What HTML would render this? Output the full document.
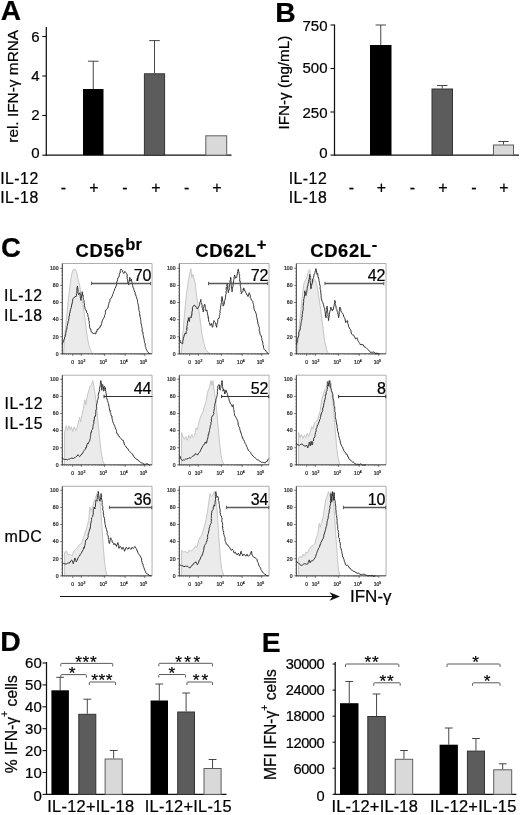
<!DOCTYPE html>
<html lang="en">
<head>
<meta charset="utf-8">
<title>Figure: IFN-γ production by NK cell subsets</title>
<style>
html,body{margin:0;padding:0;background:#fff;}
body{width:520px;height:815px;overflow:hidden;}
svg{display:block;font-family:"Liberation Sans", Arial, sans-serif;filter:grayscale(1);}
text{stroke:#000;stroke-width:0.22px;paint-order:stroke fill;}
</style>
</head>
<body>
<svg width="520" height="815" viewBox="0 0 520 815">
<rect width="520" height="815" fill="#fff"/>
<text x="0.80" y="20.30" font-size="28" text-anchor="start" font-weight="bold" fill="#000" >A</text>
<line x1="46.30" y1="27.00" x2="46.30" y2="155.80" stroke="#111" stroke-width="1.25" />
<line x1="45.70" y1="155.20" x2="231.50" y2="155.20" stroke="#111" stroke-width="1.25" />
<line x1="42.30" y1="36.50" x2="46.30" y2="36.50" stroke="#111" stroke-width="1.1" />
<text x="39.50" y="41.80" font-size="15" text-anchor="end" font-weight="normal" fill="#000" >6</text>
<line x1="42.30" y1="76.00" x2="46.30" y2="76.00" stroke="#111" stroke-width="1.1" />
<text x="39.50" y="80.90" font-size="15" text-anchor="end" font-weight="normal" fill="#000" >4</text>
<line x1="42.30" y1="115.50" x2="46.30" y2="115.50" stroke="#111" stroke-width="1.1" />
<text x="39.50" y="120.40" font-size="15" text-anchor="end" font-weight="normal" fill="#000" >2</text>
<line x1="42.30" y1="155.20" x2="46.30" y2="155.20" stroke="#111" stroke-width="1.1" />
<text x="39.50" y="158.40" font-size="15" text-anchor="end" font-weight="normal" fill="#000" >0</text>
<line x1="93.25" y1="61.20" x2="93.25" y2="89.00" stroke="#333" stroke-width="0.9" />
<line x1="87.95" y1="61.20" x2="98.55" y2="61.20" stroke="#333" stroke-width="0.9" />
<rect x="83.00" y="89.00" width="20.50" height="66.20" fill="#000"/>
<line x1="154.50" y1="40.60" x2="154.50" y2="73.30" stroke="#333" stroke-width="0.9" />
<line x1="149.20" y1="40.60" x2="159.80" y2="40.60" stroke="#333" stroke-width="0.9" />
<rect x="144.40" y="73.80" width="20.20" height="81.40" fill="#5c5c5c" stroke="#333" stroke-width="1"/>
<line x1="216.25" y1="135.30" x2="216.25" y2="135.30" stroke="#333" stroke-width="0.9" />
<line x1="216.25" y1="135.30" x2="216.25" y2="135.30" stroke="#333" stroke-width="0.9" />
<rect x="205.80" y="135.80" width="20.90" height="19.40" fill="#d9d9d9" stroke="#5e5e5e" stroke-width="1"/>
<text transform="translate(18.4,86.3) rotate(-90)" font-size="15.4" text-anchor="middle">rel. IFN-γ mRNA</text>
<text x="0.20" y="183.50" font-size="15.8" text-anchor="start" font-weight="normal" fill="#000" letter-spacing="0.5">IL-12</text>
<text x="0.20" y="203.20" font-size="15.8" text-anchor="start" font-weight="normal" fill="#000" letter-spacing="0.5">IL-18</text>
<text x="63.50" y="192.80" font-size="16" text-anchor="middle" font-weight="normal" fill="#000" stroke-width="0.55">-</text>
<text x="94.00" y="192.80" font-size="16" text-anchor="middle" font-weight="normal" fill="#000" stroke-width="0.55">+</text>
<text x="125.00" y="192.80" font-size="16" text-anchor="middle" font-weight="normal" fill="#000" stroke-width="0.55">-</text>
<text x="156.00" y="192.80" font-size="16" text-anchor="middle" font-weight="normal" fill="#000" stroke-width="0.55">+</text>
<text x="186.70" y="192.80" font-size="16" text-anchor="middle" font-weight="normal" fill="#000" stroke-width="0.55">-</text>
<text x="216.80" y="192.80" font-size="16" text-anchor="middle" font-weight="normal" fill="#000" stroke-width="0.55">+</text>
<text x="275.30" y="21.50" font-size="28.3" text-anchor="start" font-weight="bold" fill="#000" >B</text>
<line x1="334.50" y1="24.50" x2="334.50" y2="155.70" stroke="#111" stroke-width="1.25" />
<line x1="333.90" y1="155.10" x2="519.00" y2="155.10" stroke="#111" stroke-width="1.25" />
<line x1="330.50" y1="25.00" x2="334.50" y2="25.00" stroke="#111" stroke-width="1.1" />
<text x="327.50" y="31.30" font-size="15" text-anchor="end" font-weight="normal" fill="#000" >750</text>
<line x1="330.50" y1="68.50" x2="334.50" y2="68.50" stroke="#111" stroke-width="1.1" />
<text x="327.50" y="73.40" font-size="15" text-anchor="end" font-weight="normal" fill="#000" >500</text>
<line x1="330.50" y1="112.00" x2="334.50" y2="112.00" stroke="#111" stroke-width="1.1" />
<text x="327.50" y="117.70" font-size="15" text-anchor="end" font-weight="normal" fill="#000" >250</text>
<line x1="330.50" y1="155.10" x2="334.50" y2="155.10" stroke="#111" stroke-width="1.1" />
<text x="327.50" y="158.40" font-size="15" text-anchor="end" font-weight="normal" fill="#000" >0</text>
<line x1="380.75" y1="25.00" x2="380.75" y2="45.00" stroke="#333" stroke-width="0.9" />
<line x1="375.55" y1="25.00" x2="385.95" y2="25.00" stroke="#333" stroke-width="0.9" />
<rect x="370.00" y="45.00" width="21.50" height="110.10" fill="#000"/>
<line x1="442.25" y1="85.50" x2="442.25" y2="88.50" stroke="#333" stroke-width="0.9" />
<line x1="437.05" y1="85.50" x2="447.45" y2="85.50" stroke="#333" stroke-width="0.9" />
<rect x="432.00" y="89.00" width="20.50" height="66.10" fill="#5c5c5c" stroke="#333" stroke-width="1"/>
<line x1="503.50" y1="141.50" x2="503.50" y2="144.50" stroke="#333" stroke-width="0.9" />
<line x1="498.30" y1="141.50" x2="508.70" y2="141.50" stroke="#333" stroke-width="0.9" />
<rect x="493.50" y="145.00" width="20.00" height="10.10" fill="#d9d9d9" stroke="#5e5e5e" stroke-width="1"/>
<text transform="translate(288.8,82.6) rotate(-90)" font-size="15.2" text-anchor="middle">IFN-γ (ng/mL)</text>
<text x="288.70" y="183.50" font-size="15.8" text-anchor="start" font-weight="normal" fill="#000" letter-spacing="0.5">IL-12</text>
<text x="288.70" y="203.20" font-size="15.8" text-anchor="start" font-weight="normal" fill="#000" letter-spacing="0.5">IL-18</text>
<text x="351.50" y="192.80" font-size="16" text-anchor="middle" font-weight="normal" fill="#000" stroke-width="0.55">-</text>
<text x="381.50" y="192.80" font-size="16" text-anchor="middle" font-weight="normal" fill="#000" stroke-width="0.55">+</text>
<text x="412.50" y="192.80" font-size="16" text-anchor="middle" font-weight="normal" fill="#000" stroke-width="0.55">-</text>
<text x="443.00" y="192.80" font-size="16" text-anchor="middle" font-weight="normal" fill="#000" stroke-width="0.55">+</text>
<text x="474.00" y="192.80" font-size="16" text-anchor="middle" font-weight="normal" fill="#000" stroke-width="0.55">-</text>
<text x="504.00" y="192.80" font-size="16" text-anchor="middle" font-weight="normal" fill="#000" stroke-width="0.55">+</text>
<text x="1.00" y="256.70" font-size="27.5" text-anchor="start" font-weight="bold" fill="#000" >C</text>
<text x="75.6" y="256.7" font-size="18.3" font-weight="bold" letter-spacing="0.7">CD56<tspan font-size="16.5" dy="-6.5" letter-spacing="0.3">br</tspan></text>
<text x="195.3" y="256.7" font-size="18.3" font-weight="bold" letter-spacing="0.7">CD62L<tspan font-size="16.5" dy="-6.5" letter-spacing="0.3">+</tspan></text>
<text x="310.3" y="256.7" font-size="18.3" font-weight="bold" letter-spacing="0.7">CD62L<tspan font-size="16.5" dy="-6.5" letter-spacing="0.3">-</tspan></text>
<text x="4.00" y="300.80" font-size="15.8" text-anchor="start" font-weight="normal" fill="#000" letter-spacing="0.5">IL-12</text>
<text x="4.00" y="321.00" font-size="15.8" text-anchor="start" font-weight="normal" fill="#000" letter-spacing="0.5">IL-18</text>
<text x="4.60" y="409.20" font-size="15.8" text-anchor="start" font-weight="normal" fill="#000" letter-spacing="0.5">IL-12</text>
<text x="4.60" y="428.80" font-size="15.8" text-anchor="start" font-weight="normal" fill="#000" letter-spacing="0.5">IL-15</text>
<text x="4.40" y="541.50" font-size="16" text-anchor="start" font-weight="normal" fill="#000" letter-spacing="0.5">mDC</text>
<path d="M63.65,353.85 L64.62,336.92 L66.54,317.69 L68.46,298.46 L70.38,283.08 L71.92,273.46 L73.27,269.62 L75.19,269.23 L76.54,271.54 L78.08,279.23 L79.62,285.00 L80.96,294.62 L82.88,304.23 L84.81,317.69 L86.73,333.08 L88.65,344.62 L90.58,350.38 L92.50,353.85Z" fill="#ebebeb" stroke="none"/>
<path d="M63.65,353.85 L64.62,336.92 L66.54,317.69 L68.46,298.46 L70.38,283.08 L71.92,273.46 L73.27,269.62 L75.19,269.23 L76.54,271.54 L78.08,279.23 L79.62,285.00 L80.96,294.62 L82.88,304.23 L84.81,317.69 L86.73,333.08 L88.65,344.62 L90.58,350.38 L92.50,353.85" fill="none" stroke="#c6c6c6" stroke-width="1" stroke-linejoin="round"/>
<path d="M62.31,263.50 H152.05 V353.85" fill="none" stroke="#9a9a9a" stroke-width="0.8"/>
<line x1="62.31" y1="263.50" x2="62.31" y2="354.35" stroke="#333" stroke-width="1" />
<line x1="61.81" y1="353.85" x2="152.05" y2="353.85" stroke="#333" stroke-width="1" />
<line x1="60.31" y1="353.85" x2="62.31" y2="353.85" stroke="#333" stroke-width="0.7" />
<text x="58.51" y="355.65" font-size="5.1" text-anchor="end" font-weight="normal" fill="#3a3a3a" stroke="none">0</text>
<line x1="60.31" y1="336.73" x2="62.31" y2="336.73" stroke="#333" stroke-width="0.7" />
<text x="58.51" y="338.53" font-size="5.1" text-anchor="end" font-weight="normal" fill="#3a3a3a" stroke="none">20</text>
<line x1="60.31" y1="319.62" x2="62.31" y2="319.62" stroke="#333" stroke-width="0.7" />
<text x="58.51" y="321.42" font-size="5.1" text-anchor="end" font-weight="normal" fill="#3a3a3a" stroke="none">40</text>
<line x1="60.31" y1="302.50" x2="62.31" y2="302.50" stroke="#333" stroke-width="0.7" />
<text x="58.51" y="304.30" font-size="5.1" text-anchor="end" font-weight="normal" fill="#3a3a3a" stroke="none">60</text>
<line x1="60.31" y1="285.38" x2="62.31" y2="285.38" stroke="#333" stroke-width="0.7" />
<text x="58.51" y="287.18" font-size="5.1" text-anchor="end" font-weight="normal" fill="#3a3a3a" stroke="none">80</text>
<line x1="60.31" y1="268.27" x2="62.31" y2="268.27" stroke="#333" stroke-width="0.7" />
<text x="58.51" y="270.07" font-size="5.1" text-anchor="end" font-weight="normal" fill="#3a3a3a" stroke="none">100</text>
<line x1="61.31" y1="350.42" x2="62.31" y2="350.42" stroke="#555" stroke-width="0.5" />
<line x1="61.31" y1="347.00" x2="62.31" y2="347.00" stroke="#555" stroke-width="0.5" />
<line x1="61.31" y1="343.58" x2="62.31" y2="343.58" stroke="#555" stroke-width="0.5" />
<line x1="61.31" y1="340.15" x2="62.31" y2="340.15" stroke="#555" stroke-width="0.5" />
<line x1="61.31" y1="333.31" x2="62.31" y2="333.31" stroke="#555" stroke-width="0.5" />
<line x1="61.31" y1="329.88" x2="62.31" y2="329.88" stroke="#555" stroke-width="0.5" />
<line x1="61.31" y1="326.46" x2="62.31" y2="326.46" stroke="#555" stroke-width="0.5" />
<line x1="61.31" y1="323.04" x2="62.31" y2="323.04" stroke="#555" stroke-width="0.5" />
<line x1="61.31" y1="316.19" x2="62.31" y2="316.19" stroke="#555" stroke-width="0.5" />
<line x1="61.31" y1="312.77" x2="62.31" y2="312.77" stroke="#555" stroke-width="0.5" />
<line x1="61.31" y1="309.35" x2="62.31" y2="309.35" stroke="#555" stroke-width="0.5" />
<line x1="61.31" y1="305.92" x2="62.31" y2="305.92" stroke="#555" stroke-width="0.5" />
<line x1="61.31" y1="299.08" x2="62.31" y2="299.08" stroke="#555" stroke-width="0.5" />
<line x1="61.31" y1="295.65" x2="62.31" y2="295.65" stroke="#555" stroke-width="0.5" />
<line x1="61.31" y1="292.23" x2="62.31" y2="292.23" stroke="#555" stroke-width="0.5" />
<line x1="61.31" y1="288.81" x2="62.31" y2="288.81" stroke="#555" stroke-width="0.5" />
<line x1="61.31" y1="281.96" x2="62.31" y2="281.96" stroke="#555" stroke-width="0.5" />
<line x1="61.31" y1="278.54" x2="62.31" y2="278.54" stroke="#555" stroke-width="0.5" />
<line x1="61.31" y1="275.12" x2="62.31" y2="275.12" stroke="#555" stroke-width="0.5" />
<line x1="61.31" y1="271.69" x2="62.31" y2="271.69" stroke="#555" stroke-width="0.5" />
<text x="72.69" y="364.45" font-size="5" text-anchor="middle" font-weight="normal" fill="#3a3a3a" stroke="none">0</text>
<text x="81.54" y="364.45" font-size="5" text-anchor="middle" fill="#3a3a3a" stroke="none">10<tspan font-size="3.4" dy="-2">2</tspan></text>
<text x="103.27" y="364.45" font-size="5" text-anchor="middle" fill="#3a3a3a" stroke="none">10<tspan font-size="3.4" dy="-2">3</tspan></text>
<text x="123.85" y="364.45" font-size="5" text-anchor="middle" fill="#3a3a3a" stroke="none">10<tspan font-size="3.4" dy="-2">4</tspan></text>
<text x="143.46" y="364.45" font-size="5" text-anchor="middle" fill="#3a3a3a" stroke="none">10<tspan font-size="3.4" dy="-2">5</tspan></text>
<line x1="72.69" y1="353.85" x2="72.69" y2="355.85" stroke="#333" stroke-width="0.7" />
<line x1="81.35" y1="353.85" x2="81.35" y2="355.85" stroke="#333" stroke-width="0.7" />
<line x1="104.62" y1="353.85" x2="104.62" y2="355.85" stroke="#333" stroke-width="0.7" />
<line x1="125.19" y1="353.85" x2="125.19" y2="355.85" stroke="#333" stroke-width="0.7" />
<line x1="144.81" y1="353.85" x2="144.81" y2="355.85" stroke="#333" stroke-width="0.7" />
<line x1="88.35" y1="353.85" x2="88.35" y2="354.95" stroke="#555" stroke-width="0.45" />
<line x1="92.45" y1="353.85" x2="92.45" y2="354.95" stroke="#555" stroke-width="0.45" />
<line x1="95.36" y1="353.85" x2="95.36" y2="354.95" stroke="#555" stroke-width="0.45" />
<line x1="97.61" y1="353.85" x2="97.61" y2="354.95" stroke="#555" stroke-width="0.45" />
<line x1="99.45" y1="353.85" x2="99.45" y2="354.95" stroke="#555" stroke-width="0.45" />
<line x1="101.01" y1="353.85" x2="101.01" y2="354.95" stroke="#555" stroke-width="0.45" />
<line x1="102.36" y1="353.85" x2="102.36" y2="354.95" stroke="#555" stroke-width="0.45" />
<line x1="103.55" y1="353.85" x2="103.55" y2="354.95" stroke="#555" stroke-width="0.45" />
<line x1="110.81" y1="353.85" x2="110.81" y2="354.95" stroke="#555" stroke-width="0.45" />
<line x1="114.43" y1="353.85" x2="114.43" y2="354.95" stroke="#555" stroke-width="0.45" />
<line x1="117.00" y1="353.85" x2="117.00" y2="354.95" stroke="#555" stroke-width="0.45" />
<line x1="119.00" y1="353.85" x2="119.00" y2="354.95" stroke="#555" stroke-width="0.45" />
<line x1="120.63" y1="353.85" x2="120.63" y2="354.95" stroke="#555" stroke-width="0.45" />
<line x1="122.00" y1="353.85" x2="122.00" y2="354.95" stroke="#555" stroke-width="0.45" />
<line x1="123.20" y1="353.85" x2="123.20" y2="354.95" stroke="#555" stroke-width="0.45" />
<line x1="124.25" y1="353.85" x2="124.25" y2="354.95" stroke="#555" stroke-width="0.45" />
<line x1="131.10" y1="353.85" x2="131.10" y2="354.95" stroke="#555" stroke-width="0.45" />
<line x1="134.55" y1="353.85" x2="134.55" y2="354.95" stroke="#555" stroke-width="0.45" />
<line x1="137.00" y1="353.85" x2="137.00" y2="354.95" stroke="#555" stroke-width="0.45" />
<line x1="138.90" y1="353.85" x2="138.90" y2="354.95" stroke="#555" stroke-width="0.45" />
<line x1="140.46" y1="353.85" x2="140.46" y2="354.95" stroke="#555" stroke-width="0.45" />
<line x1="141.77" y1="353.85" x2="141.77" y2="354.95" stroke="#555" stroke-width="0.45" />
<line x1="142.91" y1="353.85" x2="142.91" y2="354.95" stroke="#555" stroke-width="0.45" />
<line x1="143.91" y1="353.85" x2="143.91" y2="354.95" stroke="#555" stroke-width="0.45" />
<line x1="64.23" y1="353.85" x2="64.23" y2="354.95" stroke="#555" stroke-width="0.45" />
<line x1="66.54" y1="353.85" x2="66.54" y2="354.95" stroke="#555" stroke-width="0.45" />
<line x1="68.46" y1="353.85" x2="68.46" y2="354.95" stroke="#555" stroke-width="0.45" />
<line x1="70.38" y1="353.85" x2="70.38" y2="354.95" stroke="#555" stroke-width="0.45" />
<line x1="74.81" y1="353.85" x2="74.81" y2="354.95" stroke="#555" stroke-width="0.45" />
<line x1="76.73" y1="353.85" x2="76.73" y2="354.95" stroke="#555" stroke-width="0.45" />
<line x1="78.46" y1="353.85" x2="78.46" y2="354.95" stroke="#555" stroke-width="0.45" />
<line x1="80.00" y1="353.85" x2="80.00" y2="354.95" stroke="#555" stroke-width="0.45" />
<path d="M62.31,344.62 L62.47,343.37 L62.80,342.93 L63.38,341.79 L63.85,340.06 L64.19,339.07 L64.62,338.85 L64.58,337.12 L65.27,336.65 L65.10,335.14 L65.79,334.91 L65.66,333.79 L65.66,333.40 L66.03,332.17 L66.15,329.99 L66.81,329.22 L66.89,327.98 L66.97,327.68 L67.00,326.50 L67.50,325.38 L67.50,323.65 L67.84,323.62 L68.13,322.01 L68.14,321.21 L68.59,320.73 L68.70,318.82 L69.09,318.25 L68.90,317.55 L68.99,316.92 L69.59,315.00 L69.61,313.55 L69.92,312.34 L70.05,312.47 L70.07,311.63 L70.38,310.00 L70.71,309.26 L70.88,308.03 L71.46,307.40 L71.54,305.76 L71.82,304.05 L72.27,303.94 L72.08,303.17 L72.59,301.43 L72.72,299.80 L72.76,298.98 L73.27,298.46 L74.40,297.11 L75.03,296.59 L76.15,296.54 L76.53,295.31 L76.39,293.75 L76.80,293.44 L76.93,292.82 L76.77,290.90 L77.21,289.97 L76.87,289.87 L77.06,287.56 L77.36,286.59 L77.50,285.96 L77.47,287.19 L77.69,287.33 L77.90,289.00 L78.10,291.01 L78.18,291.39 L77.94,292.73 L78.52,294.17 L78.46,294.62 L79.42,294.25 L80.00,292.69 L80.07,293.62 L80.36,294.26 L80.14,295.29 L80.33,296.62 L80.40,297.93 L80.60,298.49 L80.96,300.38 L81.04,298.67 L81.54,297.46 L81.24,297.32 L81.54,295.66 L81.56,294.76 L82.29,294.45 L82.13,292.76 L82.31,291.73 L82.25,292.19 L82.54,293.72 L82.67,295.62 L83.37,295.45 L83.04,297.38 L83.46,298.46 L83.31,299.60 L84.07,300.64 L84.04,302.25 L83.97,302.35 L84.38,303.27 L84.54,304.92 L84.33,305.67 L84.97,307.51 L84.81,308.08 L85.48,309.60 L85.92,310.51 L86.26,310.52 L86.73,311.92 L86.75,312.65 L87.23,313.09 L87.82,314.42 L87.98,316.50 L88.65,317.43 L88.65,317.69 L88.67,319.49 L88.69,319.38 L88.79,320.41 L89.34,322.16 L89.17,323.58 L89.49,324.35 L89.50,324.51 L89.69,326.89 L89.62,327.31 L89.99,328.67 L90.57,328.72 L90.96,329.92 L91.09,331.91 L91.54,332.12 L92.79,332.92 L93.46,334.04 L94.42,333.08 L95.77,334.04 L95.87,333.44 L96.16,331.52 L96.89,331.80 L97.21,329.63 L97.31,329.23 L98.37,329.36 L99.26,327.71 L100.19,327.31 L100.20,325.76 L100.93,326.14 L101.43,324.47 L101.71,323.36 L101.61,323.02 L102.12,321.54 L102.46,320.18 L103.13,319.20 L103.51,318.27 L104.04,317.69 L104.58,316.00 L104.56,315.26 L105.12,314.53 L105.40,313.17 L105.43,312.20 L105.38,311.14 L105.96,310.00 L106.72,308.94 L107.88,308.08 L108.32,306.08 L108.35,305.15 L108.64,304.83 L108.85,303.27 L109.24,302.03 L109.80,301.43 L110.04,299.75 L110.24,299.02 L110.77,298.46 L111.25,297.94 L111.90,296.64 L112.18,296.24 L112.69,294.62 L113.02,293.83 L113.46,292.71 L113.68,291.65 L114.26,290.73 L114.54,290.13 L114.62,288.85 L114.94,288.59 L115.86,287.02 L115.83,286.51 L116.54,285.00 L116.69,283.24 L116.76,282.01 L117.22,280.86 L117.56,280.84 L117.50,279.23 L118.02,277.72 L118.04,277.56 L118.95,276.96 L119.33,274.94 L119.42,274.42 L119.68,273.22 L120.17,273.13 L120.19,270.77 L120.40,270.29 L120.77,269.23 L121.42,269.42 L122.31,270.58 L122.51,271.89 L123.30,272.59 L123.85,273.46 L124.41,271.73 L125.19,271.54 L125.87,272.70 L126.54,273.46 L127.01,273.86 L127.17,276.12 L126.88,276.13 L127.38,277.12 L127.13,278.59 L127.79,279.93 L127.69,281.15 L127.86,282.95 L128.60,283.16 L128.65,285.00 L128.92,284.01 L128.65,282.15 L129.02,282.00 L129.48,279.92 L129.53,279.72 L129.71,277.74 L129.62,277.31 L130.17,277.90 L130.15,279.80 L130.58,281.15 L131.33,280.28 L131.54,279.23 L131.49,280.01 L131.76,281.58 L131.90,282.07 L132.12,283.13 L132.50,285.00 L132.71,285.66 L133.04,287.34 L133.30,287.88 L133.85,288.85 L133.86,289.56 L134.18,290.37 L134.84,292.10 L135.11,292.20 L135.20,294.35 L135.77,294.62 L136.00,296.22 L136.53,296.81 L136.60,297.74 L137.18,299.31 L137.36,299.86 L137.50,301.54 L137.69,302.31 L137.77,303.20 L137.81,303.69 L138.37,304.77 L138.18,306.11 L138.78,306.89 L138.85,309.19 L138.75,309.30 L139.06,310.37 L139.23,311.20 L139.74,312.42 L139.62,313.85 L139.82,315.65 L140.26,315.54 L140.05,316.69 L140.24,317.24 L140.49,319.05 L140.67,319.66 L140.69,320.40 L140.95,321.58 L140.88,322.55 L141.19,324.02 L141.54,325.38 L141.73,326.57 L141.99,327.88 L142.31,328.88 L142.13,329.40 L142.19,331.40 L142.68,332.04 L142.98,332.00 L143.02,334.40 L143.31,335.20 L143.30,335.30 L143.46,336.92 L143.89,338.00 L144.10,339.55 L144.35,340.26 L144.44,341.49 L144.23,341.83 L144.65,342.75 L145.17,343.77 L145.25,345.56 L145.38,346.54 L145.88,347.70 L145.84,348.44 L146.70,349.90 L146.95,350.39 L147.31,351.35 L147.99,352.37 L149.07,353.26 L150.19,353.65" fill="none" stroke="#262626" stroke-width="0.95" stroke-linejoin="round"/>
<line x1="91.54" y1="283.50" x2="150.58" y2="283.50" stroke="#585858" stroke-width="1.3" />
<line x1="91.54" y1="281.80" x2="91.54" y2="285.20" stroke="#585858" stroke-width="1.0" />
<line x1="150.58" y1="281.80" x2="150.58" y2="285.20" stroke="#585858" stroke-width="1.0" />
<text x="151.49" y="280.97" font-size="16" text-anchor="end" font-weight="normal" fill="#000" >70</text>
<path d="M181.23,353.85 L182.58,336.92 L184.50,313.85 L186.42,294.62 L188.35,281.15 L189.69,273.46 L190.85,268.65 L191.81,277.31 L192.77,274.42 L194.12,279.23 L195.46,285.00 L196.62,296.54 L197.96,304.23 L199.88,317.69 L201.81,333.08 L203.73,342.69 L205.65,349.42 L208.54,352.88 L210.46,353.85Z" fill="#ebebeb" stroke="none"/>
<path d="M181.23,353.85 L182.58,336.92 L184.50,313.85 L186.42,294.62 L188.35,281.15 L189.69,273.46 L190.85,268.65 L191.81,277.31 L192.77,274.42 L194.12,279.23 L195.46,285.00 L196.62,296.54 L197.96,304.23 L199.88,317.69 L201.81,333.08 L203.73,342.69 L205.65,349.42 L208.54,352.88 L210.46,353.85" fill="none" stroke="#c6c6c6" stroke-width="1" stroke-linejoin="round"/>
<path d="M179.31,263.50 H269.05 V353.85" fill="none" stroke="#9a9a9a" stroke-width="0.8"/>
<line x1="179.31" y1="263.50" x2="179.31" y2="354.35" stroke="#333" stroke-width="1" />
<line x1="178.81" y1="353.85" x2="269.05" y2="353.85" stroke="#333" stroke-width="1" />
<line x1="177.31" y1="353.85" x2="179.31" y2="353.85" stroke="#333" stroke-width="0.7" />
<text x="175.51" y="355.65" font-size="5.1" text-anchor="end" font-weight="normal" fill="#3a3a3a" stroke="none">0</text>
<line x1="177.31" y1="336.73" x2="179.31" y2="336.73" stroke="#333" stroke-width="0.7" />
<text x="175.51" y="338.53" font-size="5.1" text-anchor="end" font-weight="normal" fill="#3a3a3a" stroke="none">20</text>
<line x1="177.31" y1="319.62" x2="179.31" y2="319.62" stroke="#333" stroke-width="0.7" />
<text x="175.51" y="321.42" font-size="5.1" text-anchor="end" font-weight="normal" fill="#3a3a3a" stroke="none">40</text>
<line x1="177.31" y1="302.50" x2="179.31" y2="302.50" stroke="#333" stroke-width="0.7" />
<text x="175.51" y="304.30" font-size="5.1" text-anchor="end" font-weight="normal" fill="#3a3a3a" stroke="none">60</text>
<line x1="177.31" y1="285.38" x2="179.31" y2="285.38" stroke="#333" stroke-width="0.7" />
<text x="175.51" y="287.18" font-size="5.1" text-anchor="end" font-weight="normal" fill="#3a3a3a" stroke="none">80</text>
<line x1="177.31" y1="268.27" x2="179.31" y2="268.27" stroke="#333" stroke-width="0.7" />
<text x="175.51" y="270.07" font-size="5.1" text-anchor="end" font-weight="normal" fill="#3a3a3a" stroke="none">100</text>
<line x1="178.31" y1="350.42" x2="179.31" y2="350.42" stroke="#555" stroke-width="0.5" />
<line x1="178.31" y1="347.00" x2="179.31" y2="347.00" stroke="#555" stroke-width="0.5" />
<line x1="178.31" y1="343.58" x2="179.31" y2="343.58" stroke="#555" stroke-width="0.5" />
<line x1="178.31" y1="340.15" x2="179.31" y2="340.15" stroke="#555" stroke-width="0.5" />
<line x1="178.31" y1="333.31" x2="179.31" y2="333.31" stroke="#555" stroke-width="0.5" />
<line x1="178.31" y1="329.88" x2="179.31" y2="329.88" stroke="#555" stroke-width="0.5" />
<line x1="178.31" y1="326.46" x2="179.31" y2="326.46" stroke="#555" stroke-width="0.5" />
<line x1="178.31" y1="323.04" x2="179.31" y2="323.04" stroke="#555" stroke-width="0.5" />
<line x1="178.31" y1="316.19" x2="179.31" y2="316.19" stroke="#555" stroke-width="0.5" />
<line x1="178.31" y1="312.77" x2="179.31" y2="312.77" stroke="#555" stroke-width="0.5" />
<line x1="178.31" y1="309.35" x2="179.31" y2="309.35" stroke="#555" stroke-width="0.5" />
<line x1="178.31" y1="305.92" x2="179.31" y2="305.92" stroke="#555" stroke-width="0.5" />
<line x1="178.31" y1="299.08" x2="179.31" y2="299.08" stroke="#555" stroke-width="0.5" />
<line x1="178.31" y1="295.65" x2="179.31" y2="295.65" stroke="#555" stroke-width="0.5" />
<line x1="178.31" y1="292.23" x2="179.31" y2="292.23" stroke="#555" stroke-width="0.5" />
<line x1="178.31" y1="288.81" x2="179.31" y2="288.81" stroke="#555" stroke-width="0.5" />
<line x1="178.31" y1="281.96" x2="179.31" y2="281.96" stroke="#555" stroke-width="0.5" />
<line x1="178.31" y1="278.54" x2="179.31" y2="278.54" stroke="#555" stroke-width="0.5" />
<line x1="178.31" y1="275.12" x2="179.31" y2="275.12" stroke="#555" stroke-width="0.5" />
<line x1="178.31" y1="271.69" x2="179.31" y2="271.69" stroke="#555" stroke-width="0.5" />
<text x="189.69" y="364.45" font-size="5" text-anchor="middle" font-weight="normal" fill="#3a3a3a" stroke="none">0</text>
<text x="198.54" y="364.45" font-size="5" text-anchor="middle" fill="#3a3a3a" stroke="none">10<tspan font-size="3.4" dy="-2">2</tspan></text>
<text x="220.27" y="364.45" font-size="5" text-anchor="middle" fill="#3a3a3a" stroke="none">10<tspan font-size="3.4" dy="-2">3</tspan></text>
<text x="240.85" y="364.45" font-size="5" text-anchor="middle" fill="#3a3a3a" stroke="none">10<tspan font-size="3.4" dy="-2">4</tspan></text>
<text x="260.46" y="364.45" font-size="5" text-anchor="middle" fill="#3a3a3a" stroke="none">10<tspan font-size="3.4" dy="-2">5</tspan></text>
<line x1="189.69" y1="353.85" x2="189.69" y2="355.85" stroke="#333" stroke-width="0.7" />
<line x1="198.35" y1="353.85" x2="198.35" y2="355.85" stroke="#333" stroke-width="0.7" />
<line x1="221.62" y1="353.85" x2="221.62" y2="355.85" stroke="#333" stroke-width="0.7" />
<line x1="242.19" y1="353.85" x2="242.19" y2="355.85" stroke="#333" stroke-width="0.7" />
<line x1="261.81" y1="353.85" x2="261.81" y2="355.85" stroke="#333" stroke-width="0.7" />
<line x1="205.35" y1="353.85" x2="205.35" y2="354.95" stroke="#555" stroke-width="0.45" />
<line x1="209.45" y1="353.85" x2="209.45" y2="354.95" stroke="#555" stroke-width="0.45" />
<line x1="212.36" y1="353.85" x2="212.36" y2="354.95" stroke="#555" stroke-width="0.45" />
<line x1="214.61" y1="353.85" x2="214.61" y2="354.95" stroke="#555" stroke-width="0.45" />
<line x1="216.45" y1="353.85" x2="216.45" y2="354.95" stroke="#555" stroke-width="0.45" />
<line x1="218.01" y1="353.85" x2="218.01" y2="354.95" stroke="#555" stroke-width="0.45" />
<line x1="219.36" y1="353.85" x2="219.36" y2="354.95" stroke="#555" stroke-width="0.45" />
<line x1="220.55" y1="353.85" x2="220.55" y2="354.95" stroke="#555" stroke-width="0.45" />
<line x1="227.81" y1="353.85" x2="227.81" y2="354.95" stroke="#555" stroke-width="0.45" />
<line x1="231.43" y1="353.85" x2="231.43" y2="354.95" stroke="#555" stroke-width="0.45" />
<line x1="234.00" y1="353.85" x2="234.00" y2="354.95" stroke="#555" stroke-width="0.45" />
<line x1="236.00" y1="353.85" x2="236.00" y2="354.95" stroke="#555" stroke-width="0.45" />
<line x1="237.63" y1="353.85" x2="237.63" y2="354.95" stroke="#555" stroke-width="0.45" />
<line x1="239.00" y1="353.85" x2="239.00" y2="354.95" stroke="#555" stroke-width="0.45" />
<line x1="240.20" y1="353.85" x2="240.20" y2="354.95" stroke="#555" stroke-width="0.45" />
<line x1="241.25" y1="353.85" x2="241.25" y2="354.95" stroke="#555" stroke-width="0.45" />
<line x1="248.10" y1="353.85" x2="248.10" y2="354.95" stroke="#555" stroke-width="0.45" />
<line x1="251.55" y1="353.85" x2="251.55" y2="354.95" stroke="#555" stroke-width="0.45" />
<line x1="254.00" y1="353.85" x2="254.00" y2="354.95" stroke="#555" stroke-width="0.45" />
<line x1="255.90" y1="353.85" x2="255.90" y2="354.95" stroke="#555" stroke-width="0.45" />
<line x1="257.46" y1="353.85" x2="257.46" y2="354.95" stroke="#555" stroke-width="0.45" />
<line x1="258.77" y1="353.85" x2="258.77" y2="354.95" stroke="#555" stroke-width="0.45" />
<line x1="259.91" y1="353.85" x2="259.91" y2="354.95" stroke="#555" stroke-width="0.45" />
<line x1="260.91" y1="353.85" x2="260.91" y2="354.95" stroke="#555" stroke-width="0.45" />
<line x1="181.23" y1="353.85" x2="181.23" y2="354.95" stroke="#555" stroke-width="0.45" />
<line x1="183.54" y1="353.85" x2="183.54" y2="354.95" stroke="#555" stroke-width="0.45" />
<line x1="185.46" y1="353.85" x2="185.46" y2="354.95" stroke="#555" stroke-width="0.45" />
<line x1="187.38" y1="353.85" x2="187.38" y2="354.95" stroke="#555" stroke-width="0.45" />
<line x1="191.81" y1="353.85" x2="191.81" y2="354.95" stroke="#555" stroke-width="0.45" />
<line x1="193.73" y1="353.85" x2="193.73" y2="354.95" stroke="#555" stroke-width="0.45" />
<line x1="195.46" y1="353.85" x2="195.46" y2="354.95" stroke="#555" stroke-width="0.45" />
<line x1="197.00" y1="353.85" x2="197.00" y2="354.95" stroke="#555" stroke-width="0.45" />
<path d="M179.31,336.92 L179.43,337.40 L179.66,339.60 L180.42,340.77 L180.31,341.53 L180.65,342.69 L181.73,343.14 L182.58,343.65 L182.88,342.96 L182.76,341.64 L183.09,339.72 L183.35,339.56 L183.39,338.15 L183.92,336.92 L184.06,335.26 L184.62,335.28 L184.65,334.32 L185.08,333.08 L186.04,334.04 L186.15,333.01 L186.06,331.87 L186.25,331.50 L186.86,330.57 L186.69,327.98 L187.15,328.20 L186.83,326.55 L187.40,325.11 L187.30,324.06 L187.38,323.46 L187.59,321.73 L187.53,321.88 L187.97,320.51 L188.28,319.47 L188.35,317.69 L188.92,318.54 L188.68,320.23 L189.31,321.54 L189.54,319.54 L189.66,319.06 L189.93,317.36 L190.27,316.73 L191.23,317.69 L191.60,316.34 L191.70,314.78 L191.45,315.06 L191.98,314.14 L191.87,313.05 L192.09,311.14 L192.36,311.09 L192.42,309.01 L192.33,307.81 L192.77,307.12 L193.66,305.52 L194.12,305.19 L195.36,305.81 L196.04,307.12 L196.56,307.68 L197.38,309.04 L197.70,308.09 L198.70,306.91 L198.92,306.15 L199.40,305.81 L199.74,304.44 L199.78,303.97 L199.73,302.66 L200.27,301.72 L200.66,300.79 L200.85,299.42 L200.80,300.28 L201.09,302.51 L201.47,302.98 L201.81,304.23 L202.15,305.01 L202.04,307.19 L202.26,307.78 L202.51,308.72 L202.55,309.19 L203.22,310.36 L203.15,311.92 L203.19,310.82 L203.91,310.38 L203.58,308.55 L203.77,307.04 L203.99,306.18 L204.32,304.91 L204.69,304.23 L205.16,305.46 L205.09,306.87 L205.38,307.46 L205.49,308.52 L205.67,309.14 L206.04,310.96 L207.00,310.00 L206.93,311.82 L207.42,312.14 L207.33,313.79 L207.52,313.91 L207.82,315.18 L208.25,317.14 L207.89,318.08 L208.50,317.80 L208.54,319.62 L208.79,321.40 L208.76,322.06 L209.62,322.90 L209.84,324.75 L209.88,325.38 L210.49,325.18 L211.42,323.46 L211.52,324.12 L212.18,326.06 L212.38,327.31 L212.78,326.89 L213.07,325.30 L213.19,323.87 L213.59,322.08 L213.94,321.27 L213.92,320.58 L214.47,321.77 L215.27,322.50 L215.45,323.11 L216.07,325.12 L216.00,325.49 L216.62,327.31 L216.86,326.27 L216.82,324.97 L216.88,324.22 L217.36,322.66 L217.67,322.63 L217.75,321.43 L217.80,319.31 L218.15,318.65 L218.96,318.43 L219.50,316.73 L219.32,315.38 L219.87,314.64 L219.73,313.48 L220.28,312.83 L219.84,311.09 L220.22,310.22 L220.20,309.73 L220.68,308.87 L220.47,307.36 L220.66,307.07 L220.74,305.78 L221.04,304.23 L221.34,302.69 L221.60,301.70 L221.25,300.93 L221.53,299.39 L222.01,299.00 L221.79,297.07 L222.00,296.54 L222.45,297.15 L222.01,298.10 L222.38,299.04 L222.84,301.45 L223.07,302.25 L222.79,303.64 L223.33,303.51 L222.90,305.48 L223.35,306.15 L223.65,305.46 L224.01,304.03 L224.50,303.27 L224.35,301.66 L224.74,300.75 L224.76,300.75 L224.99,299.69 L225.55,297.63 L225.47,297.29 L225.66,294.98 L225.85,294.62 L226.24,293.36 L226.00,292.03 L225.91,292.10 L226.54,290.28 L226.16,289.80 L226.30,287.58 L226.55,287.94 L227.08,286.62 L226.80,284.92 L227.14,284.86 L227.19,283.08 L227.46,283.76 L227.31,284.92 L227.74,285.49 L227.79,288.02 L227.53,289.13 L227.95,289.06 L228.38,291.29 L228.06,291.44 L228.35,292.69 L228.53,291.48 L228.53,291.18 L229.08,289.88 L229.29,288.81 L229.20,287.37 L229.41,285.81 L229.69,285.00 L229.56,284.35 L230.13,282.32 L229.83,281.30 L230.28,279.86 L230.69,279.23 L230.83,279.02 L230.65,277.31 L230.48,277.96 L230.85,278.72 L230.91,280.73 L230.99,281.00 L231.25,282.65 L231.45,283.89 L231.08,284.78 L231.29,286.09 L231.44,286.69 L231.42,287.99 L231.55,288.24 L232.05,289.12 L231.79,290.83 L232.00,291.73 L232.47,290.51 L232.14,289.63 L232.56,289.05 L232.36,288.29 L232.97,286.40 L233.19,285.93 L232.94,283.59 L233.03,282.66 L233.44,282.97 L233.54,281.15 L233.62,280.82 L233.83,279.69 L234.20,277.69 L233.93,277.76 L234.42,276.18 L234.50,275.00 L234.86,275.64 L235.21,276.61 L235.85,278.27 L236.49,276.92 L237.00,276.35 L237.00,275.57 L237.27,273.53 L237.38,273.58 L237.58,271.98 L237.99,271.74 L237.90,269.55 L238.35,269.23 L238.57,270.10 L238.47,271.53 L239.05,271.81 L238.98,273.24 L239.31,274.42 L239.69,275.17 L239.54,276.24 L239.54,277.37 L240.01,279.24 L239.59,279.49 L239.69,281.13 L240.24,281.04 L240.28,282.76 L240.42,283.79 L240.27,285.00 L240.17,286.02 L240.54,286.39 L240.89,288.47 L240.83,288.67 L240.87,290.20 L240.85,290.92 L241.38,292.61 L241.23,293.65 L241.90,292.07 L242.58,291.73 L243.16,291.26 L242.91,289.32 L243.75,289.56 L243.73,287.88 L243.89,288.82 L244.56,290.49 L245.08,290.77 L245.67,292.38 L245.89,293.21 L246.62,293.65 L246.89,295.07 L247.73,295.42 L247.96,296.54 L248.10,296.10 L248.57,294.16 L248.90,293.68 L249.31,292.69 L249.45,293.24 L250.18,295.36 L250.27,295.42 L250.24,297.72 L250.85,298.46 L251.24,299.96 L252.16,300.54 L252.77,301.35 L252.84,302.63 L253.21,303.38 L253.45,304.47 L253.50,305.59 L253.81,305.99 L253.75,307.82 L254.29,309.34 L254.31,310.00 L254.78,310.89 L255.65,311.92 L255.67,313.03 L256.15,313.64 L256.42,314.73 L256.44,316.55 L257.00,317.69 L256.95,319.01 L257.62,320.26 L257.37,321.01 L257.80,322.09 L257.87,323.91 L258.64,324.86 L258.54,325.38 L258.93,326.85 L259.23,327.09 L259.41,328.67 L259.09,330.45 L259.78,331.34 L259.60,331.28 L259.88,333.08 L260.18,334.45 L260.77,335.63 L261.42,335.96 L261.36,337.55 L262.03,338.13 L261.78,338.74 L261.98,340.30 L262.06,340.63 L262.71,341.91 L262.85,343.82 L262.77,344.62 L263.26,345.05 L263.40,345.92 L263.60,347.72 L264.04,349.06 L264.31,349.42 L265.19,350.32 L265.91,350.33 L266.23,351.73 L267.12,352.71 L268.15,353.27" fill="none" stroke="#262626" stroke-width="0.95" stroke-linejoin="round"/>
<line x1="208.54" y1="283.50" x2="267.58" y2="283.50" stroke="#585858" stroke-width="1.3" />
<line x1="208.54" y1="281.80" x2="208.54" y2="285.20" stroke="#585858" stroke-width="1.0" />
<line x1="267.58" y1="281.80" x2="267.58" y2="285.20" stroke="#585858" stroke-width="1.0" />
<text x="268.49" y="280.97" font-size="16" text-anchor="end" font-weight="normal" fill="#000" >72</text>
<path d="M297.08,353.85 L298.23,336.92 L300.15,317.69 L302.08,298.46 L304.00,283.08 L305.92,279.23 L307.27,276.35 L308.62,270.58 L309.77,269.62 L311.12,279.23 L312.46,283.08 L314.00,279.23 L315.54,281.15 L316.88,285.00 L318.81,296.54 L320.73,310.00 L322.65,325.38 L324.58,340.77 L326.50,349.42 L328.42,353.85Z" fill="#ebebeb" stroke="none"/>
<path d="M297.08,353.85 L298.23,336.92 L300.15,317.69 L302.08,298.46 L304.00,283.08 L305.92,279.23 L307.27,276.35 L308.62,270.58 L309.77,269.62 L311.12,279.23 L312.46,283.08 L314.00,279.23 L315.54,281.15 L316.88,285.00 L318.81,296.54 L320.73,310.00 L322.65,325.38 L324.58,340.77 L326.50,349.42 L328.42,353.85" fill="none" stroke="#c6c6c6" stroke-width="1" stroke-linejoin="round"/>
<path d="M296.31,263.50 H386.05 V353.85" fill="none" stroke="#9a9a9a" stroke-width="0.8"/>
<line x1="296.31" y1="263.50" x2="296.31" y2="354.35" stroke="#333" stroke-width="1" />
<line x1="295.81" y1="353.85" x2="386.05" y2="353.85" stroke="#333" stroke-width="1" />
<line x1="294.31" y1="353.85" x2="296.31" y2="353.85" stroke="#333" stroke-width="0.7" />
<text x="292.51" y="355.65" font-size="5.1" text-anchor="end" font-weight="normal" fill="#3a3a3a" stroke="none">0</text>
<line x1="294.31" y1="336.73" x2="296.31" y2="336.73" stroke="#333" stroke-width="0.7" />
<text x="292.51" y="338.53" font-size="5.1" text-anchor="end" font-weight="normal" fill="#3a3a3a" stroke="none">20</text>
<line x1="294.31" y1="319.62" x2="296.31" y2="319.62" stroke="#333" stroke-width="0.7" />
<text x="292.51" y="321.42" font-size="5.1" text-anchor="end" font-weight="normal" fill="#3a3a3a" stroke="none">40</text>
<line x1="294.31" y1="302.50" x2="296.31" y2="302.50" stroke="#333" stroke-width="0.7" />
<text x="292.51" y="304.30" font-size="5.1" text-anchor="end" font-weight="normal" fill="#3a3a3a" stroke="none">60</text>
<line x1="294.31" y1="285.38" x2="296.31" y2="285.38" stroke="#333" stroke-width="0.7" />
<text x="292.51" y="287.18" font-size="5.1" text-anchor="end" font-weight="normal" fill="#3a3a3a" stroke="none">80</text>
<line x1="294.31" y1="268.27" x2="296.31" y2="268.27" stroke="#333" stroke-width="0.7" />
<text x="292.51" y="270.07" font-size="5.1" text-anchor="end" font-weight="normal" fill="#3a3a3a" stroke="none">100</text>
<line x1="295.31" y1="350.42" x2="296.31" y2="350.42" stroke="#555" stroke-width="0.5" />
<line x1="295.31" y1="347.00" x2="296.31" y2="347.00" stroke="#555" stroke-width="0.5" />
<line x1="295.31" y1="343.58" x2="296.31" y2="343.58" stroke="#555" stroke-width="0.5" />
<line x1="295.31" y1="340.15" x2="296.31" y2="340.15" stroke="#555" stroke-width="0.5" />
<line x1="295.31" y1="333.31" x2="296.31" y2="333.31" stroke="#555" stroke-width="0.5" />
<line x1="295.31" y1="329.88" x2="296.31" y2="329.88" stroke="#555" stroke-width="0.5" />
<line x1="295.31" y1="326.46" x2="296.31" y2="326.46" stroke="#555" stroke-width="0.5" />
<line x1="295.31" y1="323.04" x2="296.31" y2="323.04" stroke="#555" stroke-width="0.5" />
<line x1="295.31" y1="316.19" x2="296.31" y2="316.19" stroke="#555" stroke-width="0.5" />
<line x1="295.31" y1="312.77" x2="296.31" y2="312.77" stroke="#555" stroke-width="0.5" />
<line x1="295.31" y1="309.35" x2="296.31" y2="309.35" stroke="#555" stroke-width="0.5" />
<line x1="295.31" y1="305.92" x2="296.31" y2="305.92" stroke="#555" stroke-width="0.5" />
<line x1="295.31" y1="299.08" x2="296.31" y2="299.08" stroke="#555" stroke-width="0.5" />
<line x1="295.31" y1="295.65" x2="296.31" y2="295.65" stroke="#555" stroke-width="0.5" />
<line x1="295.31" y1="292.23" x2="296.31" y2="292.23" stroke="#555" stroke-width="0.5" />
<line x1="295.31" y1="288.81" x2="296.31" y2="288.81" stroke="#555" stroke-width="0.5" />
<line x1="295.31" y1="281.96" x2="296.31" y2="281.96" stroke="#555" stroke-width="0.5" />
<line x1="295.31" y1="278.54" x2="296.31" y2="278.54" stroke="#555" stroke-width="0.5" />
<line x1="295.31" y1="275.12" x2="296.31" y2="275.12" stroke="#555" stroke-width="0.5" />
<line x1="295.31" y1="271.69" x2="296.31" y2="271.69" stroke="#555" stroke-width="0.5" />
<text x="306.69" y="364.45" font-size="5" text-anchor="middle" font-weight="normal" fill="#3a3a3a" stroke="none">0</text>
<text x="315.54" y="364.45" font-size="5" text-anchor="middle" fill="#3a3a3a" stroke="none">10<tspan font-size="3.4" dy="-2">2</tspan></text>
<text x="337.27" y="364.45" font-size="5" text-anchor="middle" fill="#3a3a3a" stroke="none">10<tspan font-size="3.4" dy="-2">3</tspan></text>
<text x="357.85" y="364.45" font-size="5" text-anchor="middle" fill="#3a3a3a" stroke="none">10<tspan font-size="3.4" dy="-2">4</tspan></text>
<text x="377.46" y="364.45" font-size="5" text-anchor="middle" fill="#3a3a3a" stroke="none">10<tspan font-size="3.4" dy="-2">5</tspan></text>
<line x1="306.69" y1="353.85" x2="306.69" y2="355.85" stroke="#333" stroke-width="0.7" />
<line x1="315.35" y1="353.85" x2="315.35" y2="355.85" stroke="#333" stroke-width="0.7" />
<line x1="338.62" y1="353.85" x2="338.62" y2="355.85" stroke="#333" stroke-width="0.7" />
<line x1="359.19" y1="353.85" x2="359.19" y2="355.85" stroke="#333" stroke-width="0.7" />
<line x1="378.81" y1="353.85" x2="378.81" y2="355.85" stroke="#333" stroke-width="0.7" />
<line x1="322.35" y1="353.85" x2="322.35" y2="354.95" stroke="#555" stroke-width="0.45" />
<line x1="326.45" y1="353.85" x2="326.45" y2="354.95" stroke="#555" stroke-width="0.45" />
<line x1="329.36" y1="353.85" x2="329.36" y2="354.95" stroke="#555" stroke-width="0.45" />
<line x1="331.61" y1="353.85" x2="331.61" y2="354.95" stroke="#555" stroke-width="0.45" />
<line x1="333.45" y1="353.85" x2="333.45" y2="354.95" stroke="#555" stroke-width="0.45" />
<line x1="335.01" y1="353.85" x2="335.01" y2="354.95" stroke="#555" stroke-width="0.45" />
<line x1="336.36" y1="353.85" x2="336.36" y2="354.95" stroke="#555" stroke-width="0.45" />
<line x1="337.55" y1="353.85" x2="337.55" y2="354.95" stroke="#555" stroke-width="0.45" />
<line x1="344.81" y1="353.85" x2="344.81" y2="354.95" stroke="#555" stroke-width="0.45" />
<line x1="348.43" y1="353.85" x2="348.43" y2="354.95" stroke="#555" stroke-width="0.45" />
<line x1="351.00" y1="353.85" x2="351.00" y2="354.95" stroke="#555" stroke-width="0.45" />
<line x1="353.00" y1="353.85" x2="353.00" y2="354.95" stroke="#555" stroke-width="0.45" />
<line x1="354.63" y1="353.85" x2="354.63" y2="354.95" stroke="#555" stroke-width="0.45" />
<line x1="356.00" y1="353.85" x2="356.00" y2="354.95" stroke="#555" stroke-width="0.45" />
<line x1="357.20" y1="353.85" x2="357.20" y2="354.95" stroke="#555" stroke-width="0.45" />
<line x1="358.25" y1="353.85" x2="358.25" y2="354.95" stroke="#555" stroke-width="0.45" />
<line x1="365.10" y1="353.85" x2="365.10" y2="354.95" stroke="#555" stroke-width="0.45" />
<line x1="368.55" y1="353.85" x2="368.55" y2="354.95" stroke="#555" stroke-width="0.45" />
<line x1="371.00" y1="353.85" x2="371.00" y2="354.95" stroke="#555" stroke-width="0.45" />
<line x1="372.90" y1="353.85" x2="372.90" y2="354.95" stroke="#555" stroke-width="0.45" />
<line x1="374.46" y1="353.85" x2="374.46" y2="354.95" stroke="#555" stroke-width="0.45" />
<line x1="375.77" y1="353.85" x2="375.77" y2="354.95" stroke="#555" stroke-width="0.45" />
<line x1="376.91" y1="353.85" x2="376.91" y2="354.95" stroke="#555" stroke-width="0.45" />
<line x1="377.91" y1="353.85" x2="377.91" y2="354.95" stroke="#555" stroke-width="0.45" />
<line x1="298.23" y1="353.85" x2="298.23" y2="354.95" stroke="#555" stroke-width="0.45" />
<line x1="300.54" y1="353.85" x2="300.54" y2="354.95" stroke="#555" stroke-width="0.45" />
<line x1="302.46" y1="353.85" x2="302.46" y2="354.95" stroke="#555" stroke-width="0.45" />
<line x1="304.38" y1="353.85" x2="304.38" y2="354.95" stroke="#555" stroke-width="0.45" />
<line x1="308.81" y1="353.85" x2="308.81" y2="354.95" stroke="#555" stroke-width="0.45" />
<line x1="310.73" y1="353.85" x2="310.73" y2="354.95" stroke="#555" stroke-width="0.45" />
<line x1="312.46" y1="353.85" x2="312.46" y2="354.95" stroke="#555" stroke-width="0.45" />
<line x1="314.00" y1="353.85" x2="314.00" y2="354.95" stroke="#555" stroke-width="0.45" />
<path d="M296.31,344.62 L296.43,343.94 L296.90,343.09 L297.28,340.93 L297.18,339.91 L297.65,338.85 L297.64,338.14 L298.05,337.16 L298.79,335.77 L298.86,334.59 L298.71,333.05 L299.08,331.51 L299.58,331.15 L299.80,330.19 L300.37,328.87 L300.21,327.10 L300.35,326.78 L300.92,325.38 L300.97,323.54 L301.11,322.66 L301.40,321.80 L301.29,321.33 L301.61,320.34 L302.04,318.51 L301.68,317.63 L302.13,316.35 L302.36,316.54 L302.17,314.74 L302.46,313.85 L302.66,312.04 L302.57,311.89 L302.73,311.00 L303.02,310.44 L303.23,308.32 L303.10,306.96 L303.01,306.52 L303.46,304.93 L303.42,303.84 L303.26,304.30 L303.66,302.08 L303.78,301.55 L303.59,301.01 L303.77,299.18 L304.00,298.46 L304.39,296.64 L304.41,296.72 L304.63,294.37 L304.53,294.46 L304.66,293.35 L304.57,291.43 L304.96,290.77 L304.91,291.54 L305.60,292.91 L305.90,294.69 L305.92,295.58 L306.00,294.79 L306.33,293.42 L306.61,292.67 L306.91,290.71 L306.86,290.71 L307.27,288.85 L307.13,288.37 L307.44,286.30 L308.06,285.99 L307.83,284.91 L308.00,284.05 L308.54,281.94 L308.57,281.48 L308.62,280.19 L309.15,279.30 L309.29,277.84 L309.54,277.05 L309.68,275.48 L309.77,274.42 L309.71,275.57 L309.99,276.02 L310.24,276.84 L309.74,277.98 L310.39,278.94 L309.95,280.36 L309.96,280.88 L310.40,282.97 L310.54,284.01 L310.51,284.03 L310.73,285.54 L310.84,287.30 L310.90,287.12 L310.73,288.85 L311.28,288.36 L311.08,285.91 L311.24,284.76 L312.01,284.79 L312.08,283.08 L312.59,282.14 L312.56,280.98 L312.74,278.98 L313.12,278.87 L313.62,277.31 L313.90,275.82 L314.13,274.14 L314.76,273.35 L314.96,272.50 L315.17,271.01 L315.60,270.68 L315.92,268.65 L316.19,270.37 L316.25,270.21 L316.67,272.01 L316.82,273.02 L316.88,274.42 L317.85,273.46 L317.83,274.64 L317.90,276.28 L318.12,277.34 L318.30,277.15 L318.95,279.49 L318.81,280.19 L319.04,280.60 L319.48,282.58 L319.53,283.29 L319.77,285.00 L320.12,285.85 L320.33,286.81 L320.00,287.95 L320.32,289.71 L320.54,289.87 L320.78,290.92 L320.73,292.69 L321.08,294.09 L320.97,295.06 L321.17,295.78 L321.14,297.64 L321.27,298.72 L321.59,298.71 L321.91,300.91 L322.08,301.35 L322.71,302.11 L322.82,302.84 L323.39,304.28 L323.62,305.19 L323.98,306.75 L324.04,307.26 L324.64,308.10 L324.85,310.07 L324.96,310.96 L325.08,311.55 L325.33,313.64 L325.42,313.73 L325.43,316.06 L325.64,316.08 L325.92,317.69 L326.25,316.97 L325.91,315.04 L326.13,314.14 L326.13,313.53 L326.25,312.17 L326.70,312.16 L326.95,309.71 L326.69,308.66 L327.06,309.03 L326.93,307.58 L327.08,306.15 L327.26,306.70 L327.08,307.59 L327.07,309.07 L327.65,310.11 L327.56,311.61 L327.63,312.55 L327.82,312.79 L328.00,314.24 L327.90,316.08 L328.20,316.57 L327.96,317.36 L328.47,318.87 L328.45,319.99 L328.42,320.58 L328.71,320.06 L328.73,318.64 L329.01,317.03 L329.04,315.61 L329.40,315.62 L329.27,314.29 L329.57,312.88 L329.77,311.92 L330.00,310.92 L330.62,309.80 L330.73,307.81 L330.92,307.12 L331.19,308.52 L331.90,309.02 L331.96,309.26 L332.27,310.96 L332.90,309.46 L333.18,309.74 L333.62,308.08 L333.83,306.34 L334.08,305.94 L334.20,304.80 L334.29,304.21 L334.73,302.44 L334.72,301.02 L334.77,300.38 L335.13,301.31 L335.46,301.98 L335.06,303.45 L335.47,304.42 L335.68,305.10 L336.05,306.85 L336.12,308.08 L336.30,308.80 L336.94,309.56 L337.14,311.67 L337.46,311.92 L337.89,312.63 L337.74,314.06 L338.33,314.79 L338.47,317.03 L338.62,317.69 L338.79,316.59 L339.18,315.14 L339.11,314.28 L339.36,313.97 L339.16,312.35 L339.18,311.42 L339.46,310.82 L339.54,309.79 L339.67,307.97 L339.96,307.12 L340.10,308.20 L340.78,308.72 L340.81,310.37 L341.31,311.92 L342.06,312.57 L342.85,313.85 L343.32,314.69 L343.53,316.02 L344.23,317.42 L344.38,317.69 L344.93,318.19 L345.24,320.75 L345.61,320.72 L345.73,322.50 L346.09,321.75 L347.08,320.58 L347.67,320.95 L347.53,323.13 L347.77,323.40 L348.48,324.77 L348.62,326.35 L348.91,327.06 L349.83,328.92 L350.15,329.23 L350.74,329.90 L351.01,331.81 L351.42,333.11 L351.50,334.04 L352.68,334.98 L353.42,335.00 L354.03,335.48 L354.54,336.97 L355.11,337.79 L355.35,338.85 L356.16,338.45 L357.27,337.88 L357.37,338.42 L357.66,339.80 L358.05,340.72 L358.62,341.73 L359.13,342.68 L359.87,343.72 L360.15,344.62 L362.08,344.62 L363.26,344.79 L364.00,346.54 L365.00,346.97 L365.92,347.50 L367.10,348.73 L367.85,349.42 L368.76,350.18 L369.77,351.35 L370.46,352.40 L371.78,352.21 L372.65,352.31 L373.69,351.87 L374.85,353.24 L375.54,353.27 L377.13,353.19 L378.09,353.67 L379.38,353.85" fill="none" stroke="#262626" stroke-width="0.95" stroke-linejoin="round"/>
<line x1="324.96" y1="283.50" x2="383.81" y2="283.50" stroke="#585858" stroke-width="1.3" />
<line x1="324.96" y1="281.80" x2="324.96" y2="285.20" stroke="#585858" stroke-width="1.0" />
<line x1="383.81" y1="281.80" x2="383.81" y2="285.20" stroke="#585858" stroke-width="1.0" />
<text x="385.49" y="280.97" font-size="16" text-anchor="end" font-weight="normal" fill="#000" >42</text>
<path d="M64.62,464.85 L64.62,431.58 L66.15,425.81 L67.50,430.62 L68.85,425.81 L70.00,429.65 L71.35,426.77 L72.69,431.58 L74.23,426.77 L75.77,430.62 L77.12,427.73 L78.46,421.96 L79.62,417.15 L80.58,421.96 L81.92,415.23 L83.46,408.50 L84.81,399.85 L85.77,404.65 L87.31,396.00 L88.65,391.19 L90.00,386.38 L91.54,384.46 L92.88,380.62 L94.04,388.31 L95.38,396.00 L96.92,409.46 L98.27,424.85 L99.62,438.31 L101.15,451.77 L102.69,460.42 L104.62,464.85Z" fill="#ebebeb" stroke="none"/>
<path d="M64.62,464.85 L64.62,431.58 L66.15,425.81 L67.50,430.62 L68.85,425.81 L70.00,429.65 L71.35,426.77 L72.69,431.58 L74.23,426.77 L75.77,430.62 L77.12,427.73 L78.46,421.96 L79.62,417.15 L80.58,421.96 L81.92,415.23 L83.46,408.50 L84.81,399.85 L85.77,404.65 L87.31,396.00 L88.65,391.19 L90.00,386.38 L91.54,384.46 L92.88,380.62 L94.04,388.31 L95.38,396.00 L96.92,409.46 L98.27,424.85 L99.62,438.31 L101.15,451.77 L102.69,460.42 L104.62,464.85" fill="none" stroke="#c6c6c6" stroke-width="1" stroke-linejoin="round"/>
<path d="M62.31,375.20 H152.05 V464.85" fill="none" stroke="#9a9a9a" stroke-width="0.8"/>
<line x1="62.31" y1="375.20" x2="62.31" y2="465.35" stroke="#333" stroke-width="1" />
<line x1="61.81" y1="464.85" x2="152.05" y2="464.85" stroke="#333" stroke-width="1" />
<line x1="60.31" y1="464.85" x2="62.31" y2="464.85" stroke="#333" stroke-width="0.7" />
<text x="58.51" y="466.65" font-size="5.1" text-anchor="end" font-weight="normal" fill="#3a3a3a" stroke="none">0</text>
<line x1="60.31" y1="447.73" x2="62.31" y2="447.73" stroke="#333" stroke-width="0.7" />
<text x="58.51" y="449.53" font-size="5.1" text-anchor="end" font-weight="normal" fill="#3a3a3a" stroke="none">20</text>
<line x1="60.31" y1="430.62" x2="62.31" y2="430.62" stroke="#333" stroke-width="0.7" />
<text x="58.51" y="432.42" font-size="5.1" text-anchor="end" font-weight="normal" fill="#3a3a3a" stroke="none">40</text>
<line x1="60.31" y1="413.50" x2="62.31" y2="413.50" stroke="#333" stroke-width="0.7" />
<text x="58.51" y="415.30" font-size="5.1" text-anchor="end" font-weight="normal" fill="#3a3a3a" stroke="none">60</text>
<line x1="60.31" y1="396.38" x2="62.31" y2="396.38" stroke="#333" stroke-width="0.7" />
<text x="58.51" y="398.18" font-size="5.1" text-anchor="end" font-weight="normal" fill="#3a3a3a" stroke="none">80</text>
<line x1="60.31" y1="379.27" x2="62.31" y2="379.27" stroke="#333" stroke-width="0.7" />
<text x="58.51" y="381.07" font-size="5.1" text-anchor="end" font-weight="normal" fill="#3a3a3a" stroke="none">100</text>
<line x1="61.31" y1="461.42" x2="62.31" y2="461.42" stroke="#555" stroke-width="0.5" />
<line x1="61.31" y1="458.00" x2="62.31" y2="458.00" stroke="#555" stroke-width="0.5" />
<line x1="61.31" y1="454.58" x2="62.31" y2="454.58" stroke="#555" stroke-width="0.5" />
<line x1="61.31" y1="451.15" x2="62.31" y2="451.15" stroke="#555" stroke-width="0.5" />
<line x1="61.31" y1="444.31" x2="62.31" y2="444.31" stroke="#555" stroke-width="0.5" />
<line x1="61.31" y1="440.88" x2="62.31" y2="440.88" stroke="#555" stroke-width="0.5" />
<line x1="61.31" y1="437.46" x2="62.31" y2="437.46" stroke="#555" stroke-width="0.5" />
<line x1="61.31" y1="434.04" x2="62.31" y2="434.04" stroke="#555" stroke-width="0.5" />
<line x1="61.31" y1="427.19" x2="62.31" y2="427.19" stroke="#555" stroke-width="0.5" />
<line x1="61.31" y1="423.77" x2="62.31" y2="423.77" stroke="#555" stroke-width="0.5" />
<line x1="61.31" y1="420.35" x2="62.31" y2="420.35" stroke="#555" stroke-width="0.5" />
<line x1="61.31" y1="416.92" x2="62.31" y2="416.92" stroke="#555" stroke-width="0.5" />
<line x1="61.31" y1="410.08" x2="62.31" y2="410.08" stroke="#555" stroke-width="0.5" />
<line x1="61.31" y1="406.65" x2="62.31" y2="406.65" stroke="#555" stroke-width="0.5" />
<line x1="61.31" y1="403.23" x2="62.31" y2="403.23" stroke="#555" stroke-width="0.5" />
<line x1="61.31" y1="399.81" x2="62.31" y2="399.81" stroke="#555" stroke-width="0.5" />
<line x1="61.31" y1="392.96" x2="62.31" y2="392.96" stroke="#555" stroke-width="0.5" />
<line x1="61.31" y1="389.54" x2="62.31" y2="389.54" stroke="#555" stroke-width="0.5" />
<line x1="61.31" y1="386.12" x2="62.31" y2="386.12" stroke="#555" stroke-width="0.5" />
<line x1="61.31" y1="382.69" x2="62.31" y2="382.69" stroke="#555" stroke-width="0.5" />
<text x="72.69" y="475.45" font-size="5" text-anchor="middle" font-weight="normal" fill="#3a3a3a" stroke="none">0</text>
<text x="81.54" y="475.45" font-size="5" text-anchor="middle" fill="#3a3a3a" stroke="none">10<tspan font-size="3.4" dy="-2">2</tspan></text>
<text x="103.27" y="475.45" font-size="5" text-anchor="middle" fill="#3a3a3a" stroke="none">10<tspan font-size="3.4" dy="-2">3</tspan></text>
<text x="123.85" y="475.45" font-size="5" text-anchor="middle" fill="#3a3a3a" stroke="none">10<tspan font-size="3.4" dy="-2">4</tspan></text>
<text x="143.46" y="475.45" font-size="5" text-anchor="middle" fill="#3a3a3a" stroke="none">10<tspan font-size="3.4" dy="-2">5</tspan></text>
<line x1="72.69" y1="464.85" x2="72.69" y2="466.85" stroke="#333" stroke-width="0.7" />
<line x1="81.35" y1="464.85" x2="81.35" y2="466.85" stroke="#333" stroke-width="0.7" />
<line x1="104.62" y1="464.85" x2="104.62" y2="466.85" stroke="#333" stroke-width="0.7" />
<line x1="125.19" y1="464.85" x2="125.19" y2="466.85" stroke="#333" stroke-width="0.7" />
<line x1="144.81" y1="464.85" x2="144.81" y2="466.85" stroke="#333" stroke-width="0.7" />
<line x1="88.35" y1="464.85" x2="88.35" y2="465.95" stroke="#555" stroke-width="0.45" />
<line x1="92.45" y1="464.85" x2="92.45" y2="465.95" stroke="#555" stroke-width="0.45" />
<line x1="95.36" y1="464.85" x2="95.36" y2="465.95" stroke="#555" stroke-width="0.45" />
<line x1="97.61" y1="464.85" x2="97.61" y2="465.95" stroke="#555" stroke-width="0.45" />
<line x1="99.45" y1="464.85" x2="99.45" y2="465.95" stroke="#555" stroke-width="0.45" />
<line x1="101.01" y1="464.85" x2="101.01" y2="465.95" stroke="#555" stroke-width="0.45" />
<line x1="102.36" y1="464.85" x2="102.36" y2="465.95" stroke="#555" stroke-width="0.45" />
<line x1="103.55" y1="464.85" x2="103.55" y2="465.95" stroke="#555" stroke-width="0.45" />
<line x1="110.81" y1="464.85" x2="110.81" y2="465.95" stroke="#555" stroke-width="0.45" />
<line x1="114.43" y1="464.85" x2="114.43" y2="465.95" stroke="#555" stroke-width="0.45" />
<line x1="117.00" y1="464.85" x2="117.00" y2="465.95" stroke="#555" stroke-width="0.45" />
<line x1="119.00" y1="464.85" x2="119.00" y2="465.95" stroke="#555" stroke-width="0.45" />
<line x1="120.63" y1="464.85" x2="120.63" y2="465.95" stroke="#555" stroke-width="0.45" />
<line x1="122.00" y1="464.85" x2="122.00" y2="465.95" stroke="#555" stroke-width="0.45" />
<line x1="123.20" y1="464.85" x2="123.20" y2="465.95" stroke="#555" stroke-width="0.45" />
<line x1="124.25" y1="464.85" x2="124.25" y2="465.95" stroke="#555" stroke-width="0.45" />
<line x1="131.10" y1="464.85" x2="131.10" y2="465.95" stroke="#555" stroke-width="0.45" />
<line x1="134.55" y1="464.85" x2="134.55" y2="465.95" stroke="#555" stroke-width="0.45" />
<line x1="137.00" y1="464.85" x2="137.00" y2="465.95" stroke="#555" stroke-width="0.45" />
<line x1="138.90" y1="464.85" x2="138.90" y2="465.95" stroke="#555" stroke-width="0.45" />
<line x1="140.46" y1="464.85" x2="140.46" y2="465.95" stroke="#555" stroke-width="0.45" />
<line x1="141.77" y1="464.85" x2="141.77" y2="465.95" stroke="#555" stroke-width="0.45" />
<line x1="142.91" y1="464.85" x2="142.91" y2="465.95" stroke="#555" stroke-width="0.45" />
<line x1="143.91" y1="464.85" x2="143.91" y2="465.95" stroke="#555" stroke-width="0.45" />
<line x1="64.23" y1="464.85" x2="64.23" y2="465.95" stroke="#555" stroke-width="0.45" />
<line x1="66.54" y1="464.85" x2="66.54" y2="465.95" stroke="#555" stroke-width="0.45" />
<line x1="68.46" y1="464.85" x2="68.46" y2="465.95" stroke="#555" stroke-width="0.45" />
<line x1="70.38" y1="464.85" x2="70.38" y2="465.95" stroke="#555" stroke-width="0.45" />
<line x1="74.81" y1="464.85" x2="74.81" y2="465.95" stroke="#555" stroke-width="0.45" />
<line x1="76.73" y1="464.85" x2="76.73" y2="465.95" stroke="#555" stroke-width="0.45" />
<line x1="78.46" y1="464.85" x2="78.46" y2="465.95" stroke="#555" stroke-width="0.45" />
<line x1="80.00" y1="464.85" x2="80.00" y2="465.95" stroke="#555" stroke-width="0.45" />
<path d="M62.31,457.54 L62.78,458.82 L63.93,459.17 L64.62,459.46 L66.29,459.40 L67.50,459.85 L68.45,459.18 L69.60,458.99 L70.38,458.50 L71.79,458.04 L73.27,458.50 L74.27,457.73 L75.06,457.74 L76.15,456.58 L77.05,456.14 L78.08,454.65 L78.70,455.62 L79.62,456.58 L80.59,455.63 L80.96,454.65 L82.11,453.94 L82.88,452.73 L83.41,451.50 L84.22,450.49 L84.81,449.85 L85.47,449.10 L85.91,447.19 L86.28,447.58 L86.73,446.00 L87.08,444.32 L87.49,443.29 L88.24,443.79 L88.65,442.15 L89.29,441.45 L89.62,440.89 L90.00,439.27 L90.27,438.37 L90.45,437.42 L90.39,436.31 L90.74,435.21 L90.71,434.28 L90.86,432.27 L91.61,432.14 L91.54,430.62 L91.90,429.90 L92.62,429.21 L92.88,427.73 L92.90,426.76 L93.18,425.28 L93.35,424.24 L93.85,423.68 L93.78,421.68 L93.67,420.58 L94.13,420.75 L94.22,419.85 L94.42,418.12 L94.69,416.38 L95.38,416.34 L95.42,416.00 L95.77,414.27 L95.63,413.07 L95.82,412.39 L95.81,410.54 L96.35,409.25 L96.64,408.38 L96.70,407.26 L96.27,406.27 L96.53,406.16 L96.61,405.12 L96.92,403.69 L97.29,401.87 L97.54,401.84 L97.23,400.76 L97.83,399.50 L98.16,398.13 L98.37,396.71 L98.27,396.00 L98.18,395.23 L98.81,392.98 L98.67,393.14 L99.31,391.21 L99.62,389.86 L99.62,389.27 L99.48,388.17 L99.95,386.89 L100.16,385.93 L100.38,384.37 L100.43,383.64 L100.43,382.99 L100.81,381.51 L100.77,380.62 L101.06,382.40 L100.85,382.86 L101.39,383.12 L101.41,385.21 L101.37,385.69 L101.62,387.79 L101.39,388.26 L101.87,389.05 L101.73,390.23 L102.04,388.88 L102.37,388.09 L102.17,387.26 L102.35,384.82 L102.69,384.46 L102.91,385.46 L103.26,387.21 L103.39,387.09 L103.57,389.45 L103.35,390.19 L103.65,391.19 L104.09,390.55 L104.40,389.08 L104.11,387.34 L104.62,386.38 L105.13,387.43 L105.42,387.83 L105.58,389.27 L105.53,391.04 L105.93,391.60 L105.75,392.46 L106.22,393.20 L106.15,395.14 L106.49,395.10 L106.25,397.28 L106.54,397.92 L107.13,399.01 L107.23,400.46 L107.61,400.77 L107.88,401.77 L107.96,402.43 L108.55,403.57 L108.73,405.01 L108.97,406.23 L109.23,407.54 L109.25,408.13 L109.77,410.64 L110.24,410.37 L110.24,412.61 L110.77,413.31 L110.98,414.62 L111.08,415.65 L112.01,416.02 L111.99,418.51 L112.31,419.08 L112.49,420.39 L112.93,421.93 L113.49,423.40 L113.65,423.88 L114.40,425.36 L114.26,425.41 L115.00,426.77 L115.10,427.25 L115.33,428.03 L116.16,429.75 L116.52,430.55 L116.54,431.58 L116.64,433.19 L117.24,433.66 L117.99,433.85 L118.08,435.42 L118.98,436.00 L119.81,437.35 L120.87,438.53 L121.35,439.27 L122.24,440.02 L123.27,440.23 L123.39,441.35 L124.26,443.38 L123.98,443.39 L124.62,445.04 L125.29,445.61 L126.15,446.96 L127.37,448.57 L128.08,448.88 L128.43,450.39 L129.49,451.27 L130.00,451.77 L131.27,452.97 L131.92,453.69 L132.34,453.94 L133.49,456.02 L133.85,456.58 L134.68,457.82 L135.77,458.50 L136.90,459.48 L137.58,459.54 L138.65,461.00 L139.37,461.25 L140.36,462.25 L141.54,462.92 L142.27,462.84 L143.15,463.88 L144.23,464.28 L145.38,464.27 L146.86,463.67 L148.07,464.11 L149.24,465.29 L150.19,464.85" fill="none" stroke="#262626" stroke-width="0.95" stroke-linejoin="round"/>
<line x1="104.04" y1="396.50" x2="152.50" y2="396.50" stroke="#303030" stroke-width="1.0" />
<line x1="104.04" y1="394.80" x2="104.04" y2="398.20" stroke="#303030" stroke-width="1.0" />
<text x="151.49" y="393.99" font-size="16" text-anchor="end" font-weight="normal" fill="#000" >44</text>
<path d="M181.62,464.85 L181.62,432.54 L183.15,437.35 L184.50,439.27 L185.85,436.38 L187.38,440.23 L188.92,435.42 L190.27,438.31 L191.81,434.46 L193.15,437.35 L194.69,435.42 L196.04,427.73 L197.38,429.65 L198.54,423.88 L199.88,419.08 L201.23,415.23 L202.77,412.35 L204.12,407.54 L205.65,402.73 L207.00,396.00 L208.15,390.23 L209.50,387.35 L210.85,380.62 L212.00,385.42 L212.96,380.62 L213.92,388.31 L215.27,397.92 L216.62,409.46 L218.15,426.77 L219.69,444.08 L221.04,455.62 L222.38,461.38 L224.31,464.85Z" fill="#ebebeb" stroke="none"/>
<path d="M181.62,464.85 L181.62,432.54 L183.15,437.35 L184.50,439.27 L185.85,436.38 L187.38,440.23 L188.92,435.42 L190.27,438.31 L191.81,434.46 L193.15,437.35 L194.69,435.42 L196.04,427.73 L197.38,429.65 L198.54,423.88 L199.88,419.08 L201.23,415.23 L202.77,412.35 L204.12,407.54 L205.65,402.73 L207.00,396.00 L208.15,390.23 L209.50,387.35 L210.85,380.62 L212.00,385.42 L212.96,380.62 L213.92,388.31 L215.27,397.92 L216.62,409.46 L218.15,426.77 L219.69,444.08 L221.04,455.62 L222.38,461.38 L224.31,464.85" fill="none" stroke="#c6c6c6" stroke-width="1" stroke-linejoin="round"/>
<path d="M179.31,375.20 H269.05 V464.85" fill="none" stroke="#9a9a9a" stroke-width="0.8"/>
<line x1="179.31" y1="375.20" x2="179.31" y2="465.35" stroke="#333" stroke-width="1" />
<line x1="178.81" y1="464.85" x2="269.05" y2="464.85" stroke="#333" stroke-width="1" />
<line x1="177.31" y1="464.85" x2="179.31" y2="464.85" stroke="#333" stroke-width="0.7" />
<text x="175.51" y="466.65" font-size="5.1" text-anchor="end" font-weight="normal" fill="#3a3a3a" stroke="none">0</text>
<line x1="177.31" y1="447.73" x2="179.31" y2="447.73" stroke="#333" stroke-width="0.7" />
<text x="175.51" y="449.53" font-size="5.1" text-anchor="end" font-weight="normal" fill="#3a3a3a" stroke="none">20</text>
<line x1="177.31" y1="430.62" x2="179.31" y2="430.62" stroke="#333" stroke-width="0.7" />
<text x="175.51" y="432.42" font-size="5.1" text-anchor="end" font-weight="normal" fill="#3a3a3a" stroke="none">40</text>
<line x1="177.31" y1="413.50" x2="179.31" y2="413.50" stroke="#333" stroke-width="0.7" />
<text x="175.51" y="415.30" font-size="5.1" text-anchor="end" font-weight="normal" fill="#3a3a3a" stroke="none">60</text>
<line x1="177.31" y1="396.38" x2="179.31" y2="396.38" stroke="#333" stroke-width="0.7" />
<text x="175.51" y="398.18" font-size="5.1" text-anchor="end" font-weight="normal" fill="#3a3a3a" stroke="none">80</text>
<line x1="177.31" y1="379.27" x2="179.31" y2="379.27" stroke="#333" stroke-width="0.7" />
<text x="175.51" y="381.07" font-size="5.1" text-anchor="end" font-weight="normal" fill="#3a3a3a" stroke="none">100</text>
<line x1="178.31" y1="461.42" x2="179.31" y2="461.42" stroke="#555" stroke-width="0.5" />
<line x1="178.31" y1="458.00" x2="179.31" y2="458.00" stroke="#555" stroke-width="0.5" />
<line x1="178.31" y1="454.58" x2="179.31" y2="454.58" stroke="#555" stroke-width="0.5" />
<line x1="178.31" y1="451.15" x2="179.31" y2="451.15" stroke="#555" stroke-width="0.5" />
<line x1="178.31" y1="444.31" x2="179.31" y2="444.31" stroke="#555" stroke-width="0.5" />
<line x1="178.31" y1="440.88" x2="179.31" y2="440.88" stroke="#555" stroke-width="0.5" />
<line x1="178.31" y1="437.46" x2="179.31" y2="437.46" stroke="#555" stroke-width="0.5" />
<line x1="178.31" y1="434.04" x2="179.31" y2="434.04" stroke="#555" stroke-width="0.5" />
<line x1="178.31" y1="427.19" x2="179.31" y2="427.19" stroke="#555" stroke-width="0.5" />
<line x1="178.31" y1="423.77" x2="179.31" y2="423.77" stroke="#555" stroke-width="0.5" />
<line x1="178.31" y1="420.35" x2="179.31" y2="420.35" stroke="#555" stroke-width="0.5" />
<line x1="178.31" y1="416.92" x2="179.31" y2="416.92" stroke="#555" stroke-width="0.5" />
<line x1="178.31" y1="410.08" x2="179.31" y2="410.08" stroke="#555" stroke-width="0.5" />
<line x1="178.31" y1="406.65" x2="179.31" y2="406.65" stroke="#555" stroke-width="0.5" />
<line x1="178.31" y1="403.23" x2="179.31" y2="403.23" stroke="#555" stroke-width="0.5" />
<line x1="178.31" y1="399.81" x2="179.31" y2="399.81" stroke="#555" stroke-width="0.5" />
<line x1="178.31" y1="392.96" x2="179.31" y2="392.96" stroke="#555" stroke-width="0.5" />
<line x1="178.31" y1="389.54" x2="179.31" y2="389.54" stroke="#555" stroke-width="0.5" />
<line x1="178.31" y1="386.12" x2="179.31" y2="386.12" stroke="#555" stroke-width="0.5" />
<line x1="178.31" y1="382.69" x2="179.31" y2="382.69" stroke="#555" stroke-width="0.5" />
<text x="189.69" y="475.45" font-size="5" text-anchor="middle" font-weight="normal" fill="#3a3a3a" stroke="none">0</text>
<text x="198.54" y="475.45" font-size="5" text-anchor="middle" fill="#3a3a3a" stroke="none">10<tspan font-size="3.4" dy="-2">2</tspan></text>
<text x="220.27" y="475.45" font-size="5" text-anchor="middle" fill="#3a3a3a" stroke="none">10<tspan font-size="3.4" dy="-2">3</tspan></text>
<text x="240.85" y="475.45" font-size="5" text-anchor="middle" fill="#3a3a3a" stroke="none">10<tspan font-size="3.4" dy="-2">4</tspan></text>
<text x="260.46" y="475.45" font-size="5" text-anchor="middle" fill="#3a3a3a" stroke="none">10<tspan font-size="3.4" dy="-2">5</tspan></text>
<line x1="189.69" y1="464.85" x2="189.69" y2="466.85" stroke="#333" stroke-width="0.7" />
<line x1="198.35" y1="464.85" x2="198.35" y2="466.85" stroke="#333" stroke-width="0.7" />
<line x1="221.62" y1="464.85" x2="221.62" y2="466.85" stroke="#333" stroke-width="0.7" />
<line x1="242.19" y1="464.85" x2="242.19" y2="466.85" stroke="#333" stroke-width="0.7" />
<line x1="261.81" y1="464.85" x2="261.81" y2="466.85" stroke="#333" stroke-width="0.7" />
<line x1="205.35" y1="464.85" x2="205.35" y2="465.95" stroke="#555" stroke-width="0.45" />
<line x1="209.45" y1="464.85" x2="209.45" y2="465.95" stroke="#555" stroke-width="0.45" />
<line x1="212.36" y1="464.85" x2="212.36" y2="465.95" stroke="#555" stroke-width="0.45" />
<line x1="214.61" y1="464.85" x2="214.61" y2="465.95" stroke="#555" stroke-width="0.45" />
<line x1="216.45" y1="464.85" x2="216.45" y2="465.95" stroke="#555" stroke-width="0.45" />
<line x1="218.01" y1="464.85" x2="218.01" y2="465.95" stroke="#555" stroke-width="0.45" />
<line x1="219.36" y1="464.85" x2="219.36" y2="465.95" stroke="#555" stroke-width="0.45" />
<line x1="220.55" y1="464.85" x2="220.55" y2="465.95" stroke="#555" stroke-width="0.45" />
<line x1="227.81" y1="464.85" x2="227.81" y2="465.95" stroke="#555" stroke-width="0.45" />
<line x1="231.43" y1="464.85" x2="231.43" y2="465.95" stroke="#555" stroke-width="0.45" />
<line x1="234.00" y1="464.85" x2="234.00" y2="465.95" stroke="#555" stroke-width="0.45" />
<line x1="236.00" y1="464.85" x2="236.00" y2="465.95" stroke="#555" stroke-width="0.45" />
<line x1="237.63" y1="464.85" x2="237.63" y2="465.95" stroke="#555" stroke-width="0.45" />
<line x1="239.00" y1="464.85" x2="239.00" y2="465.95" stroke="#555" stroke-width="0.45" />
<line x1="240.20" y1="464.85" x2="240.20" y2="465.95" stroke="#555" stroke-width="0.45" />
<line x1="241.25" y1="464.85" x2="241.25" y2="465.95" stroke="#555" stroke-width="0.45" />
<line x1="248.10" y1="464.85" x2="248.10" y2="465.95" stroke="#555" stroke-width="0.45" />
<line x1="251.55" y1="464.85" x2="251.55" y2="465.95" stroke="#555" stroke-width="0.45" />
<line x1="254.00" y1="464.85" x2="254.00" y2="465.95" stroke="#555" stroke-width="0.45" />
<line x1="255.90" y1="464.85" x2="255.90" y2="465.95" stroke="#555" stroke-width="0.45" />
<line x1="257.46" y1="464.85" x2="257.46" y2="465.95" stroke="#555" stroke-width="0.45" />
<line x1="258.77" y1="464.85" x2="258.77" y2="465.95" stroke="#555" stroke-width="0.45" />
<line x1="259.91" y1="464.85" x2="259.91" y2="465.95" stroke="#555" stroke-width="0.45" />
<line x1="260.91" y1="464.85" x2="260.91" y2="465.95" stroke="#555" stroke-width="0.45" />
<line x1="181.23" y1="464.85" x2="181.23" y2="465.95" stroke="#555" stroke-width="0.45" />
<line x1="183.54" y1="464.85" x2="183.54" y2="465.95" stroke="#555" stroke-width="0.45" />
<line x1="185.46" y1="464.85" x2="185.46" y2="465.95" stroke="#555" stroke-width="0.45" />
<line x1="187.38" y1="464.85" x2="187.38" y2="465.95" stroke="#555" stroke-width="0.45" />
<line x1="191.81" y1="464.85" x2="191.81" y2="465.95" stroke="#555" stroke-width="0.45" />
<line x1="193.73" y1="464.85" x2="193.73" y2="465.95" stroke="#555" stroke-width="0.45" />
<line x1="195.46" y1="464.85" x2="195.46" y2="465.95" stroke="#555" stroke-width="0.45" />
<line x1="197.00" y1="464.85" x2="197.00" y2="465.95" stroke="#555" stroke-width="0.45" />
<path d="M179.31,455.62 L179.72,456.00 L180.48,456.89 L180.65,458.50 L181.70,460.01 L182.58,460.42 L183.44,459.90 L184.49,460.04 L185.46,459.08 L186.68,458.99 L188.35,458.50 L189.02,457.73 L190.30,458.20 L191.23,457.54 L192.43,456.33 L193.10,455.88 L194.12,455.62 L194.93,454.10 L196.04,453.69 L196.89,454.72 L197.96,454.65 L198.60,453.16 L199.50,452.44 L199.88,451.77 L200.67,450.19 L201.10,449.14 L201.14,449.15 L201.81,447.92 L202.31,446.93 L202.90,445.61 L203.73,445.04 L204.49,443.86 L204.90,443.91 L205.08,442.15 L206.62,443.12 L206.74,441.35 L206.84,441.51 L207.25,440.11 L207.33,439.39 L207.80,438.00 L208.15,436.38 L208.10,434.65 L208.71,434.61 L208.92,432.42 L209.05,432.43 L209.50,430.62 L209.54,429.58 L210.21,427.80 L210.11,427.49 L210.31,425.33 L210.85,424.85 L210.99,423.94 L210.95,422.32 L211.41,421.78 L211.48,421.02 L211.29,418.96 L211.65,418.73 L211.57,417.63 L212.00,416.19 L213.35,415.23 L213.39,414.66 L213.88,413.64 L213.48,412.01 L213.93,411.61 L213.94,410.48 L214.46,408.32 L214.18,407.54 L214.60,406.48 L214.69,405.62 L214.94,403.67 L215.16,403.22 L215.52,401.55 L215.85,401.51 L215.85,399.85 L216.32,398.36 L216.68,397.25 L217.09,395.54 L217.19,395.04 L217.30,394.70 L217.43,392.92 L217.21,391.89 L217.44,391.51 L217.47,389.19 L218.04,388.23 L217.68,386.81 L217.85,386.81 L218.15,385.42 L219.12,384.46 L219.37,384.84 L219.51,386.89 L219.44,388.25 L220.02,389.67 L220.08,390.23 L220.16,388.54 L220.72,388.30 L221.04,387.35 L220.96,385.87 L221.13,384.95 L221.75,384.13 L221.73,382.29 L221.62,382.13 L222.00,380.62 L222.38,382.19 L222.14,382.55 L222.30,384.33 L222.67,384.68 L222.38,386.35 L222.47,386.55 L222.98,387.92 L223.03,389.56 L223.09,390.64 L222.96,391.19 L223.45,389.52 L223.92,389.27 L224.44,391.20 L224.35,391.27 L224.56,393.09 L224.88,394.08 L224.95,393.16 L225.56,392.05 L225.66,390.43 L226.23,390.23 L226.72,391.94 L226.93,392.85 L227.40,393.61 L227.16,394.69 L227.77,395.04 L227.96,396.47 L228.30,397.73 L229.05,398.71 L229.12,399.85 L229.34,401.00 L229.84,401.80 L230.13,403.45 L230.65,403.69 L231.20,404.34 L231.61,405.01 L232.00,406.58 L232.59,406.35 L233.15,404.65 L233.27,405.34 L233.20,406.82 L233.32,407.23 L233.63,408.55 L233.66,409.60 L233.99,410.34 L234.17,412.60 L234.33,413.23 L234.50,413.69 L234.50,415.23 L235.20,416.13 L235.85,417.15 L236.34,418.30 L236.71,418.77 L237.38,420.04 L237.65,420.71 L237.95,422.10 L238.06,422.62 L238.24,425.10 L238.66,425.74 L238.92,426.77 L239.57,427.39 L239.77,428.37 L239.66,429.11 L240.27,430.62 L240.57,432.41 L240.87,432.32 L241.43,434.12 L241.62,435.42 L241.82,435.76 L242.54,438.08 L242.66,437.75 L243.15,439.27 L243.78,439.99 L244.40,441.38 L244.69,442.15 L245.22,443.63 L245.87,444.46 L246.23,445.04 L246.65,446.42 L247.23,447.42 L247.29,448.59 L247.96,448.88 L248.29,450.44 L249.30,451.23 L249.88,451.77 L250.82,452.73 L251.11,453.81 L251.81,454.65 L253.01,456.07 L253.73,456.58 L254.62,457.58 L255.63,458.17 L256.62,459.08 L257.44,460.07 L258.57,460.18 L259.50,461.00 L260.35,461.26 L261.65,462.36 L262.38,462.35 L263.79,462.63 L265.27,462.92 L266.11,461.65 L267.19,461.38 L267.75,459.86 L267.95,459.59 L268.73,458.50" fill="none" stroke="#262626" stroke-width="0.95" stroke-linejoin="round"/>
<line x1="221.62" y1="396.50" x2="268.73" y2="396.50" stroke="#303030" stroke-width="1.0" />
<line x1="221.62" y1="394.80" x2="221.62" y2="398.20" stroke="#303030" stroke-width="1.0" />
<line x1="268.73" y1="394.80" x2="268.73" y2="398.20" stroke="#303030" stroke-width="1.0" />
<text x="268.49" y="393.99" font-size="16" text-anchor="end" font-weight="normal" fill="#000" >52</text>
<path d="M298.62,464.85 L298.62,432.54 L300.15,437.35 L301.50,434.46 L302.85,438.31 L304.38,435.42 L305.92,437.35 L307.27,433.50 L308.62,436.38 L310.15,432.54 L311.69,426.77 L313.04,428.69 L314.38,422.92 L315.92,421.96 L317.46,420.04 L318.81,415.23 L320.15,411.38 L321.69,399.85 L323.04,395.04 L324.58,390.23 L325.92,388.31 L327.08,381.58 L328.42,380.62 L329.77,380.62 L330.92,382.54 L332.27,396.00 L333.62,409.46 L335.15,428.69 L336.69,447.92 L338.04,457.54 L339.38,463.31 L340.54,464.85Z" fill="#ebebeb" stroke="none"/>
<path d="M298.62,464.85 L298.62,432.54 L300.15,437.35 L301.50,434.46 L302.85,438.31 L304.38,435.42 L305.92,437.35 L307.27,433.50 L308.62,436.38 L310.15,432.54 L311.69,426.77 L313.04,428.69 L314.38,422.92 L315.92,421.96 L317.46,420.04 L318.81,415.23 L320.15,411.38 L321.69,399.85 L323.04,395.04 L324.58,390.23 L325.92,388.31 L327.08,381.58 L328.42,380.62 L329.77,380.62 L330.92,382.54 L332.27,396.00 L333.62,409.46 L335.15,428.69 L336.69,447.92 L338.04,457.54 L339.38,463.31 L340.54,464.85" fill="none" stroke="#c6c6c6" stroke-width="1" stroke-linejoin="round"/>
<path d="M296.31,375.20 H386.05 V464.85" fill="none" stroke="#9a9a9a" stroke-width="0.8"/>
<line x1="296.31" y1="375.20" x2="296.31" y2="465.35" stroke="#333" stroke-width="1" />
<line x1="295.81" y1="464.85" x2="386.05" y2="464.85" stroke="#333" stroke-width="1" />
<line x1="294.31" y1="464.85" x2="296.31" y2="464.85" stroke="#333" stroke-width="0.7" />
<text x="292.51" y="466.65" font-size="5.1" text-anchor="end" font-weight="normal" fill="#3a3a3a" stroke="none">0</text>
<line x1="294.31" y1="447.73" x2="296.31" y2="447.73" stroke="#333" stroke-width="0.7" />
<text x="292.51" y="449.53" font-size="5.1" text-anchor="end" font-weight="normal" fill="#3a3a3a" stroke="none">20</text>
<line x1="294.31" y1="430.62" x2="296.31" y2="430.62" stroke="#333" stroke-width="0.7" />
<text x="292.51" y="432.42" font-size="5.1" text-anchor="end" font-weight="normal" fill="#3a3a3a" stroke="none">40</text>
<line x1="294.31" y1="413.50" x2="296.31" y2="413.50" stroke="#333" stroke-width="0.7" />
<text x="292.51" y="415.30" font-size="5.1" text-anchor="end" font-weight="normal" fill="#3a3a3a" stroke="none">60</text>
<line x1="294.31" y1="396.38" x2="296.31" y2="396.38" stroke="#333" stroke-width="0.7" />
<text x="292.51" y="398.18" font-size="5.1" text-anchor="end" font-weight="normal" fill="#3a3a3a" stroke="none">80</text>
<line x1="294.31" y1="379.27" x2="296.31" y2="379.27" stroke="#333" stroke-width="0.7" />
<text x="292.51" y="381.07" font-size="5.1" text-anchor="end" font-weight="normal" fill="#3a3a3a" stroke="none">100</text>
<line x1="295.31" y1="461.42" x2="296.31" y2="461.42" stroke="#555" stroke-width="0.5" />
<line x1="295.31" y1="458.00" x2="296.31" y2="458.00" stroke="#555" stroke-width="0.5" />
<line x1="295.31" y1="454.58" x2="296.31" y2="454.58" stroke="#555" stroke-width="0.5" />
<line x1="295.31" y1="451.15" x2="296.31" y2="451.15" stroke="#555" stroke-width="0.5" />
<line x1="295.31" y1="444.31" x2="296.31" y2="444.31" stroke="#555" stroke-width="0.5" />
<line x1="295.31" y1="440.88" x2="296.31" y2="440.88" stroke="#555" stroke-width="0.5" />
<line x1="295.31" y1="437.46" x2="296.31" y2="437.46" stroke="#555" stroke-width="0.5" />
<line x1="295.31" y1="434.04" x2="296.31" y2="434.04" stroke="#555" stroke-width="0.5" />
<line x1="295.31" y1="427.19" x2="296.31" y2="427.19" stroke="#555" stroke-width="0.5" />
<line x1="295.31" y1="423.77" x2="296.31" y2="423.77" stroke="#555" stroke-width="0.5" />
<line x1="295.31" y1="420.35" x2="296.31" y2="420.35" stroke="#555" stroke-width="0.5" />
<line x1="295.31" y1="416.92" x2="296.31" y2="416.92" stroke="#555" stroke-width="0.5" />
<line x1="295.31" y1="410.08" x2="296.31" y2="410.08" stroke="#555" stroke-width="0.5" />
<line x1="295.31" y1="406.65" x2="296.31" y2="406.65" stroke="#555" stroke-width="0.5" />
<line x1="295.31" y1="403.23" x2="296.31" y2="403.23" stroke="#555" stroke-width="0.5" />
<line x1="295.31" y1="399.81" x2="296.31" y2="399.81" stroke="#555" stroke-width="0.5" />
<line x1="295.31" y1="392.96" x2="296.31" y2="392.96" stroke="#555" stroke-width="0.5" />
<line x1="295.31" y1="389.54" x2="296.31" y2="389.54" stroke="#555" stroke-width="0.5" />
<line x1="295.31" y1="386.12" x2="296.31" y2="386.12" stroke="#555" stroke-width="0.5" />
<line x1="295.31" y1="382.69" x2="296.31" y2="382.69" stroke="#555" stroke-width="0.5" />
<text x="306.69" y="475.45" font-size="5" text-anchor="middle" font-weight="normal" fill="#3a3a3a" stroke="none">0</text>
<text x="315.54" y="475.45" font-size="5" text-anchor="middle" fill="#3a3a3a" stroke="none">10<tspan font-size="3.4" dy="-2">2</tspan></text>
<text x="337.27" y="475.45" font-size="5" text-anchor="middle" fill="#3a3a3a" stroke="none">10<tspan font-size="3.4" dy="-2">3</tspan></text>
<text x="357.85" y="475.45" font-size="5" text-anchor="middle" fill="#3a3a3a" stroke="none">10<tspan font-size="3.4" dy="-2">4</tspan></text>
<text x="377.46" y="475.45" font-size="5" text-anchor="middle" fill="#3a3a3a" stroke="none">10<tspan font-size="3.4" dy="-2">5</tspan></text>
<line x1="306.69" y1="464.85" x2="306.69" y2="466.85" stroke="#333" stroke-width="0.7" />
<line x1="315.35" y1="464.85" x2="315.35" y2="466.85" stroke="#333" stroke-width="0.7" />
<line x1="338.62" y1="464.85" x2="338.62" y2="466.85" stroke="#333" stroke-width="0.7" />
<line x1="359.19" y1="464.85" x2="359.19" y2="466.85" stroke="#333" stroke-width="0.7" />
<line x1="378.81" y1="464.85" x2="378.81" y2="466.85" stroke="#333" stroke-width="0.7" />
<line x1="322.35" y1="464.85" x2="322.35" y2="465.95" stroke="#555" stroke-width="0.45" />
<line x1="326.45" y1="464.85" x2="326.45" y2="465.95" stroke="#555" stroke-width="0.45" />
<line x1="329.36" y1="464.85" x2="329.36" y2="465.95" stroke="#555" stroke-width="0.45" />
<line x1="331.61" y1="464.85" x2="331.61" y2="465.95" stroke="#555" stroke-width="0.45" />
<line x1="333.45" y1="464.85" x2="333.45" y2="465.95" stroke="#555" stroke-width="0.45" />
<line x1="335.01" y1="464.85" x2="335.01" y2="465.95" stroke="#555" stroke-width="0.45" />
<line x1="336.36" y1="464.85" x2="336.36" y2="465.95" stroke="#555" stroke-width="0.45" />
<line x1="337.55" y1="464.85" x2="337.55" y2="465.95" stroke="#555" stroke-width="0.45" />
<line x1="344.81" y1="464.85" x2="344.81" y2="465.95" stroke="#555" stroke-width="0.45" />
<line x1="348.43" y1="464.85" x2="348.43" y2="465.95" stroke="#555" stroke-width="0.45" />
<line x1="351.00" y1="464.85" x2="351.00" y2="465.95" stroke="#555" stroke-width="0.45" />
<line x1="353.00" y1="464.85" x2="353.00" y2="465.95" stroke="#555" stroke-width="0.45" />
<line x1="354.63" y1="464.85" x2="354.63" y2="465.95" stroke="#555" stroke-width="0.45" />
<line x1="356.00" y1="464.85" x2="356.00" y2="465.95" stroke="#555" stroke-width="0.45" />
<line x1="357.20" y1="464.85" x2="357.20" y2="465.95" stroke="#555" stroke-width="0.45" />
<line x1="358.25" y1="464.85" x2="358.25" y2="465.95" stroke="#555" stroke-width="0.45" />
<line x1="365.10" y1="464.85" x2="365.10" y2="465.95" stroke="#555" stroke-width="0.45" />
<line x1="368.55" y1="464.85" x2="368.55" y2="465.95" stroke="#555" stroke-width="0.45" />
<line x1="371.00" y1="464.85" x2="371.00" y2="465.95" stroke="#555" stroke-width="0.45" />
<line x1="372.90" y1="464.85" x2="372.90" y2="465.95" stroke="#555" stroke-width="0.45" />
<line x1="374.46" y1="464.85" x2="374.46" y2="465.95" stroke="#555" stroke-width="0.45" />
<line x1="375.77" y1="464.85" x2="375.77" y2="465.95" stroke="#555" stroke-width="0.45" />
<line x1="376.91" y1="464.85" x2="376.91" y2="465.95" stroke="#555" stroke-width="0.45" />
<line x1="377.91" y1="464.85" x2="377.91" y2="465.95" stroke="#555" stroke-width="0.45" />
<line x1="298.23" y1="464.85" x2="298.23" y2="465.95" stroke="#555" stroke-width="0.45" />
<line x1="300.54" y1="464.85" x2="300.54" y2="465.95" stroke="#555" stroke-width="0.45" />
<line x1="302.46" y1="464.85" x2="302.46" y2="465.95" stroke="#555" stroke-width="0.45" />
<line x1="304.38" y1="464.85" x2="304.38" y2="465.95" stroke="#555" stroke-width="0.45" />
<line x1="308.81" y1="464.85" x2="308.81" y2="465.95" stroke="#555" stroke-width="0.45" />
<line x1="310.73" y1="464.85" x2="310.73" y2="465.95" stroke="#555" stroke-width="0.45" />
<line x1="312.46" y1="464.85" x2="312.46" y2="465.95" stroke="#555" stroke-width="0.45" />
<line x1="314.00" y1="464.85" x2="314.00" y2="465.95" stroke="#555" stroke-width="0.45" />
<path d="M296.31,443.12 L296.96,444.43 L298.06,444.95 L298.62,445.04 L299.39,445.45 L300.80,444.28 L301.50,444.08 L302.17,443.94 L303.42,445.46 L304.38,446.00 L305.52,446.19 L306.31,445.04 L307.14,446.06 L307.34,446.99 L307.85,447.92 L308.04,447.07 L308.45,445.39 L308.94,444.22 L308.94,443.59 L309.19,442.15 L309.43,442.79 L309.87,444.56 L310.15,446.00 L310.64,444.92 L310.63,444.34 L310.95,442.30 L311.12,441.19 L311.34,443.27 L311.96,443.80 L312.08,445.04 L312.22,443.39 L312.80,443.56 L312.60,441.69 L313.22,441.18 L313.67,439.94 L313.62,438.31 L314.24,437.97 L314.96,436.38 L315.02,434.74 L315.35,434.21 L315.34,432.59 L315.80,432.20 L316.24,430.66 L315.82,430.01 L316.31,428.69 L316.88,427.59 L317.20,426.46 L317.34,425.01 L317.85,424.85 L318.29,424.43 L318.42,423.19 L319.03,421.96 L319.38,421.00 L319.82,419.42 L320.38,418.65 L320.34,417.51 L320.73,416.19 L320.85,414.63 L321.15,414.68 L321.53,412.67 L322.08,412.35 L322.54,411.26 L322.79,410.28 L322.53,408.28 L322.99,408.29 L323.27,407.08 L323.62,405.62 L323.69,403.96 L324.32,402.73 L324.19,402.38 L324.44,401.05 L324.99,399.29 L324.96,398.88 L325.45,397.90 L325.42,396.54 L325.25,395.12 L325.96,395.09 L326.18,392.98 L326.12,392.15 L326.31,391.70 L327.05,390.39 L327.08,389.27 L327.50,388.16 L327.28,386.66 L327.31,386.32 L327.87,384.57 L327.95,383.75 L327.69,382.27 L328.04,381.58 L328.08,382.55 L328.39,384.74 L328.51,385.28 L329.00,386.38 L329.08,385.28 L329.03,383.92 L329.67,382.32 L329.45,381.53 L329.77,380.62 L329.77,381.22 L329.75,382.39 L330.08,384.17 L330.45,384.46 L330.31,385.46 L330.36,387.74 L330.73,388.31 L331.27,389.18 L331.15,390.72 L331.69,391.19 L332.12,392.16 L332.56,393.40 L332.85,394.33 L332.85,396.00 L332.91,397.21 L333.09,398.33 L333.41,399.94 L333.81,400.81 L333.98,402.53 L333.89,402.76 L333.98,404.23 L334.05,405.73 L334.44,406.24 L334.70,406.93 L334.75,408.20 L334.77,409.46 L334.75,410.64 L334.72,411.42 L335.31,412.15 L335.30,413.45 L335.34,414.18 L335.41,415.65 L335.24,416.62 L335.45,417.71 L335.73,419.08 L336.06,419.58 L336.05,420.93 L336.48,423.03 L336.73,424.08 L336.55,423.98 L337.00,424.92 L337.08,426.77 L337.17,428.11 L337.56,428.79 L337.49,430.33 L337.75,431.65 L337.83,432.38 L338.49,432.64 L338.56,434.72 L338.62,435.42 L338.66,435.89 L339.10,437.29 L339.55,438.71 L339.96,440.23 L340.18,440.70 L340.43,442.86 L341.02,444.38 L341.31,445.04 L341.66,446.35 L342.45,446.86 L342.85,447.92 L342.91,448.64 L343.79,450.38 L343.71,450.47 L344.38,451.77 L345.73,452.73 L346.28,454.26 L346.53,453.93 L347.36,454.99 L347.65,456.58 L348.56,456.95 L348.67,458.64 L349.58,459.08 L350.47,460.35 L351.50,461.00 L352.67,462.04 L353.16,461.93 L354.38,462.92 L355.30,463.97 L356.43,464.28 L357.48,464.31 L358.23,464.27 L359.30,464.56 L360.56,463.72 L361.54,464.40 L362.39,465.28 L363.43,465.10 L365.02,465.09 L365.92,464.85" fill="none" stroke="#262626" stroke-width="0.95" stroke-linejoin="round"/>
<line x1="338.62" y1="396.50" x2="385.73" y2="396.50" stroke="#303030" stroke-width="1.0" />
<line x1="338.62" y1="394.80" x2="338.62" y2="398.20" stroke="#303030" stroke-width="1.0" />
<line x1="385.73" y1="394.80" x2="385.73" y2="398.20" stroke="#303030" stroke-width="1.0" />
<text x="385.88" y="393.99" font-size="16" text-anchor="end" font-weight="normal" fill="#000" >8</text>
<path d="M64.62,575.85 L64.62,552.19 L66.54,551.23 L68.08,555.08 L70.00,554.12 L71.92,556.04 L73.85,551.23 L75.77,549.31 L77.69,547.38 L79.62,544.50 L81.54,543.54 L83.46,537.77 L85.38,532.00 L87.12,526.23 L88.65,520.46 L90.00,507.00 L91.15,510.85 L92.50,507.96 L94.04,501.23 L95.38,498.35 L96.92,493.54 L98.27,491.23 L99.62,499.31 L100.77,510.85 L102.12,530.08 L103.46,549.31 L104.62,562.77 L105.96,571.42 L107.31,575.85Z" fill="#ebebeb" stroke="none"/>
<path d="M64.62,575.85 L64.62,552.19 L66.54,551.23 L68.08,555.08 L70.00,554.12 L71.92,556.04 L73.85,551.23 L75.77,549.31 L77.69,547.38 L79.62,544.50 L81.54,543.54 L83.46,537.77 L85.38,532.00 L87.12,526.23 L88.65,520.46 L90.00,507.00 L91.15,510.85 L92.50,507.96 L94.04,501.23 L95.38,498.35 L96.92,493.54 L98.27,491.23 L99.62,499.31 L100.77,510.85 L102.12,530.08 L103.46,549.31 L104.62,562.77 L105.96,571.42 L107.31,575.85" fill="none" stroke="#c6c6c6" stroke-width="1" stroke-linejoin="round"/>
<path d="M62.31,486.30 H152.05 V575.85" fill="none" stroke="#9a9a9a" stroke-width="0.8"/>
<line x1="62.31" y1="486.30" x2="62.31" y2="576.35" stroke="#333" stroke-width="1" />
<line x1="61.81" y1="575.85" x2="152.05" y2="575.85" stroke="#333" stroke-width="1" />
<line x1="60.31" y1="575.85" x2="62.31" y2="575.85" stroke="#333" stroke-width="0.7" />
<text x="58.51" y="577.65" font-size="5.1" text-anchor="end" font-weight="normal" fill="#3a3a3a" stroke="none">0</text>
<line x1="60.31" y1="558.73" x2="62.31" y2="558.73" stroke="#333" stroke-width="0.7" />
<text x="58.51" y="560.53" font-size="5.1" text-anchor="end" font-weight="normal" fill="#3a3a3a" stroke="none">20</text>
<line x1="60.31" y1="541.62" x2="62.31" y2="541.62" stroke="#333" stroke-width="0.7" />
<text x="58.51" y="543.42" font-size="5.1" text-anchor="end" font-weight="normal" fill="#3a3a3a" stroke="none">40</text>
<line x1="60.31" y1="524.50" x2="62.31" y2="524.50" stroke="#333" stroke-width="0.7" />
<text x="58.51" y="526.30" font-size="5.1" text-anchor="end" font-weight="normal" fill="#3a3a3a" stroke="none">60</text>
<line x1="60.31" y1="507.38" x2="62.31" y2="507.38" stroke="#333" stroke-width="0.7" />
<text x="58.51" y="509.18" font-size="5.1" text-anchor="end" font-weight="normal" fill="#3a3a3a" stroke="none">80</text>
<line x1="60.31" y1="490.27" x2="62.31" y2="490.27" stroke="#333" stroke-width="0.7" />
<text x="58.51" y="492.07" font-size="5.1" text-anchor="end" font-weight="normal" fill="#3a3a3a" stroke="none">100</text>
<line x1="61.31" y1="572.42" x2="62.31" y2="572.42" stroke="#555" stroke-width="0.5" />
<line x1="61.31" y1="569.00" x2="62.31" y2="569.00" stroke="#555" stroke-width="0.5" />
<line x1="61.31" y1="565.58" x2="62.31" y2="565.58" stroke="#555" stroke-width="0.5" />
<line x1="61.31" y1="562.15" x2="62.31" y2="562.15" stroke="#555" stroke-width="0.5" />
<line x1="61.31" y1="555.31" x2="62.31" y2="555.31" stroke="#555" stroke-width="0.5" />
<line x1="61.31" y1="551.88" x2="62.31" y2="551.88" stroke="#555" stroke-width="0.5" />
<line x1="61.31" y1="548.46" x2="62.31" y2="548.46" stroke="#555" stroke-width="0.5" />
<line x1="61.31" y1="545.04" x2="62.31" y2="545.04" stroke="#555" stroke-width="0.5" />
<line x1="61.31" y1="538.19" x2="62.31" y2="538.19" stroke="#555" stroke-width="0.5" />
<line x1="61.31" y1="534.77" x2="62.31" y2="534.77" stroke="#555" stroke-width="0.5" />
<line x1="61.31" y1="531.35" x2="62.31" y2="531.35" stroke="#555" stroke-width="0.5" />
<line x1="61.31" y1="527.92" x2="62.31" y2="527.92" stroke="#555" stroke-width="0.5" />
<line x1="61.31" y1="521.08" x2="62.31" y2="521.08" stroke="#555" stroke-width="0.5" />
<line x1="61.31" y1="517.65" x2="62.31" y2="517.65" stroke="#555" stroke-width="0.5" />
<line x1="61.31" y1="514.23" x2="62.31" y2="514.23" stroke="#555" stroke-width="0.5" />
<line x1="61.31" y1="510.81" x2="62.31" y2="510.81" stroke="#555" stroke-width="0.5" />
<line x1="61.31" y1="503.96" x2="62.31" y2="503.96" stroke="#555" stroke-width="0.5" />
<line x1="61.31" y1="500.54" x2="62.31" y2="500.54" stroke="#555" stroke-width="0.5" />
<line x1="61.31" y1="497.12" x2="62.31" y2="497.12" stroke="#555" stroke-width="0.5" />
<line x1="61.31" y1="493.69" x2="62.31" y2="493.69" stroke="#555" stroke-width="0.5" />
<text x="72.69" y="586.45" font-size="5" text-anchor="middle" font-weight="normal" fill="#3a3a3a" stroke="none">0</text>
<text x="81.54" y="586.45" font-size="5" text-anchor="middle" fill="#3a3a3a" stroke="none">10<tspan font-size="3.4" dy="-2">2</tspan></text>
<text x="103.27" y="586.45" font-size="5" text-anchor="middle" fill="#3a3a3a" stroke="none">10<tspan font-size="3.4" dy="-2">3</tspan></text>
<text x="123.85" y="586.45" font-size="5" text-anchor="middle" fill="#3a3a3a" stroke="none">10<tspan font-size="3.4" dy="-2">4</tspan></text>
<text x="143.46" y="586.45" font-size="5" text-anchor="middle" fill="#3a3a3a" stroke="none">10<tspan font-size="3.4" dy="-2">5</tspan></text>
<line x1="72.69" y1="575.85" x2="72.69" y2="577.85" stroke="#333" stroke-width="0.7" />
<line x1="81.35" y1="575.85" x2="81.35" y2="577.85" stroke="#333" stroke-width="0.7" />
<line x1="104.62" y1="575.85" x2="104.62" y2="577.85" stroke="#333" stroke-width="0.7" />
<line x1="125.19" y1="575.85" x2="125.19" y2="577.85" stroke="#333" stroke-width="0.7" />
<line x1="144.81" y1="575.85" x2="144.81" y2="577.85" stroke="#333" stroke-width="0.7" />
<line x1="88.35" y1="575.85" x2="88.35" y2="576.95" stroke="#555" stroke-width="0.45" />
<line x1="92.45" y1="575.85" x2="92.45" y2="576.95" stroke="#555" stroke-width="0.45" />
<line x1="95.36" y1="575.85" x2="95.36" y2="576.95" stroke="#555" stroke-width="0.45" />
<line x1="97.61" y1="575.85" x2="97.61" y2="576.95" stroke="#555" stroke-width="0.45" />
<line x1="99.45" y1="575.85" x2="99.45" y2="576.95" stroke="#555" stroke-width="0.45" />
<line x1="101.01" y1="575.85" x2="101.01" y2="576.95" stroke="#555" stroke-width="0.45" />
<line x1="102.36" y1="575.85" x2="102.36" y2="576.95" stroke="#555" stroke-width="0.45" />
<line x1="103.55" y1="575.85" x2="103.55" y2="576.95" stroke="#555" stroke-width="0.45" />
<line x1="110.81" y1="575.85" x2="110.81" y2="576.95" stroke="#555" stroke-width="0.45" />
<line x1="114.43" y1="575.85" x2="114.43" y2="576.95" stroke="#555" stroke-width="0.45" />
<line x1="117.00" y1="575.85" x2="117.00" y2="576.95" stroke="#555" stroke-width="0.45" />
<line x1="119.00" y1="575.85" x2="119.00" y2="576.95" stroke="#555" stroke-width="0.45" />
<line x1="120.63" y1="575.85" x2="120.63" y2="576.95" stroke="#555" stroke-width="0.45" />
<line x1="122.00" y1="575.85" x2="122.00" y2="576.95" stroke="#555" stroke-width="0.45" />
<line x1="123.20" y1="575.85" x2="123.20" y2="576.95" stroke="#555" stroke-width="0.45" />
<line x1="124.25" y1="575.85" x2="124.25" y2="576.95" stroke="#555" stroke-width="0.45" />
<line x1="131.10" y1="575.85" x2="131.10" y2="576.95" stroke="#555" stroke-width="0.45" />
<line x1="134.55" y1="575.85" x2="134.55" y2="576.95" stroke="#555" stroke-width="0.45" />
<line x1="137.00" y1="575.85" x2="137.00" y2="576.95" stroke="#555" stroke-width="0.45" />
<line x1="138.90" y1="575.85" x2="138.90" y2="576.95" stroke="#555" stroke-width="0.45" />
<line x1="140.46" y1="575.85" x2="140.46" y2="576.95" stroke="#555" stroke-width="0.45" />
<line x1="141.77" y1="575.85" x2="141.77" y2="576.95" stroke="#555" stroke-width="0.45" />
<line x1="142.91" y1="575.85" x2="142.91" y2="576.95" stroke="#555" stroke-width="0.45" />
<line x1="143.91" y1="575.85" x2="143.91" y2="576.95" stroke="#555" stroke-width="0.45" />
<line x1="64.23" y1="575.85" x2="64.23" y2="576.95" stroke="#555" stroke-width="0.45" />
<line x1="66.54" y1="575.85" x2="66.54" y2="576.95" stroke="#555" stroke-width="0.45" />
<line x1="68.46" y1="575.85" x2="68.46" y2="576.95" stroke="#555" stroke-width="0.45" />
<line x1="70.38" y1="575.85" x2="70.38" y2="576.95" stroke="#555" stroke-width="0.45" />
<line x1="74.81" y1="575.85" x2="74.81" y2="576.95" stroke="#555" stroke-width="0.45" />
<line x1="76.73" y1="575.85" x2="76.73" y2="576.95" stroke="#555" stroke-width="0.45" />
<line x1="78.46" y1="575.85" x2="78.46" y2="576.95" stroke="#555" stroke-width="0.45" />
<line x1="80.00" y1="575.85" x2="80.00" y2="576.95" stroke="#555" stroke-width="0.45" />
<path d="M62.31,563.73 L63.49,563.35 L64.62,563.73 L66.15,564.19 L67.50,563.15 L68.59,563.03 L70.00,562.77 L70.55,561.10 L71.09,560.70 L71.92,559.88 L72.03,560.54 L72.71,562.14 L72.77,562.35 L73.27,563.73 L73.54,562.60 L73.79,562.12 L74.44,559.95 L74.54,558.54 L74.81,557.96 L75.35,558.66 L75.65,559.96 L75.92,560.32 L76.15,561.81 L76.64,561.00 L77.39,560.31 L77.69,558.92 L78.20,557.34 L78.79,556.78 L79.62,556.04 L80.12,554.37 L81.03,553.63 L81.54,553.15 L81.77,552.11 L82.48,550.95 L82.77,550.05 L83.46,549.31 L83.48,547.66 L84.29,548.17 L84.61,545.76 L84.81,545.46 L85.12,545.08 L85.34,542.53 L85.42,541.89 L85.57,540.92 L86.15,539.69 L87.02,539.40 L87.69,537.77 L88.24,536.82 L88.07,535.71 L88.27,533.90 L88.94,532.40 L89.04,532.00 L89.16,531.42 L89.64,529.25 L90.08,529.19 L90.25,526.98 L90.48,526.92 L90.58,525.27 L90.57,523.84 L90.85,523.48 L91.19,521.60 L91.56,520.44 L91.54,519.50 L91.58,517.88 L92.29,517.20 L92.68,516.41 L92.88,514.69 L93.33,514.24 L93.21,512.49 L93.25,510.85 L93.28,510.43 L93.49,509.50 L94.17,508.01 L94.04,507.00 L94.22,507.30 L95.00,508.92 L94.92,507.74 L94.92,507.12 L95.59,506.22 L95.43,505.06 L95.70,503.17 L95.67,502.46 L95.80,501.09 L95.96,500.27 L96.92,501.23 L97.28,500.43 L97.01,499.74 L97.34,497.70 L97.42,497.06 L97.41,495.40 L97.80,494.54 L98.23,494.51 L98.42,493.27 L98.27,491.62 L98.47,493.44 L98.23,494.28 L98.70,495.14 L98.80,495.62 L98.86,497.75 L98.86,498.34 L99.36,498.94 L99.23,500.27 L100.19,501.23 L100.13,499.38 L100.43,499.32 L100.71,497.27 L100.79,496.63 L100.90,495.60 L100.95,494.74 L101.15,493.54 L101.07,494.00 L101.43,496.33 L101.75,496.16 L101.38,497.47 L101.60,499.00 L101.91,500.01 L102.04,500.67 L102.12,502.19 L102.24,502.65 L102.09,504.50 L102.20,505.29 L102.83,506.42 L102.85,507.68 L102.59,509.09 L103.10,510.55 L103.08,510.85 L103.48,511.31 L103.25,512.87 L103.69,514.88 L103.61,515.68 L103.76,516.78 L104.15,517.02 L104.42,518.54 L104.63,518.84 L104.58,520.24 L104.81,522.12 L105.08,523.49 L105.18,524.54 L105.53,525.70 L105.59,525.58 L105.58,527.19 L106.08,527.90 L106.46,529.40 L106.51,529.47 L106.92,531.04 L107.43,532.54 L107.08,533.64 L107.34,534.57 L108.01,535.60 L108.32,536.03 L108.27,537.77 L108.34,539.20 L108.70,539.59 L109.01,541.77 L108.89,541.77 L109.42,543.54 L109.88,541.76 L110.00,540.73 L110.35,539.74 L110.27,538.73 L110.77,537.77 L111.24,539.33 L111.86,540.00 L112.12,540.65 L112.19,542.33 L112.66,542.32 L113.51,543.54 L113.65,544.50 L115.00,543.54 L115.22,544.98 L116.23,544.95 L116.54,546.42 L116.81,545.75 L116.99,544.46 L117.48,544.09 L117.88,542.58 L118.19,544.33 L118.24,544.21 L118.83,545.58 L118.52,547.34 L119.04,548.35 L119.62,546.86 L120.38,546.42 L120.95,547.33 L121.32,548.17 L121.92,549.31 L122.65,547.56 L123.27,547.38 L123.30,548.08 L124.25,549.24 L124.05,549.54 L124.62,551.23 L124.85,550.54 L125.38,548.95 L125.81,547.97 L126.15,547.38 L127.22,548.39 L127.69,549.31 L128.07,549.13 L129.04,547.38 L129.98,548.44 L130.58,549.31 L131.43,548.94 L131.92,547.38 L133.46,548.35 L134.22,547.60 L134.81,546.42 L135.34,547.17 L136.15,548.35 L136.78,549.78 L137.04,550.97 L137.48,550.92 L137.69,552.19 L138.34,553.54 L138.88,554.33 L139.62,555.08 L140.07,556.12 L140.54,556.30 L141.15,557.96 L141.74,558.83 L141.61,560.24 L141.79,561.01 L142.00,562.34 L142.50,563.73 L143.07,563.90 L143.14,565.58 L143.38,566.73 L143.85,567.58 L143.95,568.01 L144.49,569.18 L145.03,570.82 L145.38,571.42 L145.92,572.96 L146.72,573.76 L147.31,573.92 L148.06,574.02 L149.23,575.46 L151.15,575.85" fill="none" stroke="#262626" stroke-width="0.95" stroke-linejoin="round"/>
<line x1="109.42" y1="507.50" x2="151.73" y2="507.50" stroke="#585858" stroke-width="1.3" />
<line x1="109.42" y1="505.80" x2="109.42" y2="509.20" stroke="#585858" stroke-width="1.0" />
<line x1="151.73" y1="505.80" x2="151.73" y2="509.20" stroke="#585858" stroke-width="1.0" />
<text x="151.49" y="504.61" font-size="16" text-anchor="end" font-weight="normal" fill="#000" >36</text>
<path d="M181.62,575.85 L181.62,550.27 L183.54,552.19 L185.46,551.23 L187.38,553.15 L189.31,550.27 L191.23,551.23 L193.15,549.31 L195.08,546.42 L197.00,547.38 L198.92,539.69 L200.46,536.81 L201.81,534.88 L203.35,530.08 L204.69,525.27 L206.23,518.54 L207.58,510.85 L208.92,501.23 L210.08,493.54 L211.42,496.42 L212.77,495.46 L214.31,491.62 L215.65,497.38 L216.81,507.00 L218.15,526.23 L219.50,547.38 L220.65,560.85 L222.00,570.46 L223.92,575.85Z" fill="#ebebeb" stroke="none"/>
<path d="M181.62,575.85 L181.62,550.27 L183.54,552.19 L185.46,551.23 L187.38,553.15 L189.31,550.27 L191.23,551.23 L193.15,549.31 L195.08,546.42 L197.00,547.38 L198.92,539.69 L200.46,536.81 L201.81,534.88 L203.35,530.08 L204.69,525.27 L206.23,518.54 L207.58,510.85 L208.92,501.23 L210.08,493.54 L211.42,496.42 L212.77,495.46 L214.31,491.62 L215.65,497.38 L216.81,507.00 L218.15,526.23 L219.50,547.38 L220.65,560.85 L222.00,570.46 L223.92,575.85" fill="none" stroke="#c6c6c6" stroke-width="1" stroke-linejoin="round"/>
<path d="M179.31,486.30 H269.05 V575.85" fill="none" stroke="#9a9a9a" stroke-width="0.8"/>
<line x1="179.31" y1="486.30" x2="179.31" y2="576.35" stroke="#333" stroke-width="1" />
<line x1="178.81" y1="575.85" x2="269.05" y2="575.85" stroke="#333" stroke-width="1" />
<line x1="177.31" y1="575.85" x2="179.31" y2="575.85" stroke="#333" stroke-width="0.7" />
<text x="175.51" y="577.65" font-size="5.1" text-anchor="end" font-weight="normal" fill="#3a3a3a" stroke="none">0</text>
<line x1="177.31" y1="558.73" x2="179.31" y2="558.73" stroke="#333" stroke-width="0.7" />
<text x="175.51" y="560.53" font-size="5.1" text-anchor="end" font-weight="normal" fill="#3a3a3a" stroke="none">20</text>
<line x1="177.31" y1="541.62" x2="179.31" y2="541.62" stroke="#333" stroke-width="0.7" />
<text x="175.51" y="543.42" font-size="5.1" text-anchor="end" font-weight="normal" fill="#3a3a3a" stroke="none">40</text>
<line x1="177.31" y1="524.50" x2="179.31" y2="524.50" stroke="#333" stroke-width="0.7" />
<text x="175.51" y="526.30" font-size="5.1" text-anchor="end" font-weight="normal" fill="#3a3a3a" stroke="none">60</text>
<line x1="177.31" y1="507.38" x2="179.31" y2="507.38" stroke="#333" stroke-width="0.7" />
<text x="175.51" y="509.18" font-size="5.1" text-anchor="end" font-weight="normal" fill="#3a3a3a" stroke="none">80</text>
<line x1="177.31" y1="490.27" x2="179.31" y2="490.27" stroke="#333" stroke-width="0.7" />
<text x="175.51" y="492.07" font-size="5.1" text-anchor="end" font-weight="normal" fill="#3a3a3a" stroke="none">100</text>
<line x1="178.31" y1="572.42" x2="179.31" y2="572.42" stroke="#555" stroke-width="0.5" />
<line x1="178.31" y1="569.00" x2="179.31" y2="569.00" stroke="#555" stroke-width="0.5" />
<line x1="178.31" y1="565.58" x2="179.31" y2="565.58" stroke="#555" stroke-width="0.5" />
<line x1="178.31" y1="562.15" x2="179.31" y2="562.15" stroke="#555" stroke-width="0.5" />
<line x1="178.31" y1="555.31" x2="179.31" y2="555.31" stroke="#555" stroke-width="0.5" />
<line x1="178.31" y1="551.88" x2="179.31" y2="551.88" stroke="#555" stroke-width="0.5" />
<line x1="178.31" y1="548.46" x2="179.31" y2="548.46" stroke="#555" stroke-width="0.5" />
<line x1="178.31" y1="545.04" x2="179.31" y2="545.04" stroke="#555" stroke-width="0.5" />
<line x1="178.31" y1="538.19" x2="179.31" y2="538.19" stroke="#555" stroke-width="0.5" />
<line x1="178.31" y1="534.77" x2="179.31" y2="534.77" stroke="#555" stroke-width="0.5" />
<line x1="178.31" y1="531.35" x2="179.31" y2="531.35" stroke="#555" stroke-width="0.5" />
<line x1="178.31" y1="527.92" x2="179.31" y2="527.92" stroke="#555" stroke-width="0.5" />
<line x1="178.31" y1="521.08" x2="179.31" y2="521.08" stroke="#555" stroke-width="0.5" />
<line x1="178.31" y1="517.65" x2="179.31" y2="517.65" stroke="#555" stroke-width="0.5" />
<line x1="178.31" y1="514.23" x2="179.31" y2="514.23" stroke="#555" stroke-width="0.5" />
<line x1="178.31" y1="510.81" x2="179.31" y2="510.81" stroke="#555" stroke-width="0.5" />
<line x1="178.31" y1="503.96" x2="179.31" y2="503.96" stroke="#555" stroke-width="0.5" />
<line x1="178.31" y1="500.54" x2="179.31" y2="500.54" stroke="#555" stroke-width="0.5" />
<line x1="178.31" y1="497.12" x2="179.31" y2="497.12" stroke="#555" stroke-width="0.5" />
<line x1="178.31" y1="493.69" x2="179.31" y2="493.69" stroke="#555" stroke-width="0.5" />
<text x="189.69" y="586.45" font-size="5" text-anchor="middle" font-weight="normal" fill="#3a3a3a" stroke="none">0</text>
<text x="198.54" y="586.45" font-size="5" text-anchor="middle" fill="#3a3a3a" stroke="none">10<tspan font-size="3.4" dy="-2">2</tspan></text>
<text x="220.27" y="586.45" font-size="5" text-anchor="middle" fill="#3a3a3a" stroke="none">10<tspan font-size="3.4" dy="-2">3</tspan></text>
<text x="240.85" y="586.45" font-size="5" text-anchor="middle" fill="#3a3a3a" stroke="none">10<tspan font-size="3.4" dy="-2">4</tspan></text>
<text x="260.46" y="586.45" font-size="5" text-anchor="middle" fill="#3a3a3a" stroke="none">10<tspan font-size="3.4" dy="-2">5</tspan></text>
<line x1="189.69" y1="575.85" x2="189.69" y2="577.85" stroke="#333" stroke-width="0.7" />
<line x1="198.35" y1="575.85" x2="198.35" y2="577.85" stroke="#333" stroke-width="0.7" />
<line x1="221.62" y1="575.85" x2="221.62" y2="577.85" stroke="#333" stroke-width="0.7" />
<line x1="242.19" y1="575.85" x2="242.19" y2="577.85" stroke="#333" stroke-width="0.7" />
<line x1="261.81" y1="575.85" x2="261.81" y2="577.85" stroke="#333" stroke-width="0.7" />
<line x1="205.35" y1="575.85" x2="205.35" y2="576.95" stroke="#555" stroke-width="0.45" />
<line x1="209.45" y1="575.85" x2="209.45" y2="576.95" stroke="#555" stroke-width="0.45" />
<line x1="212.36" y1="575.85" x2="212.36" y2="576.95" stroke="#555" stroke-width="0.45" />
<line x1="214.61" y1="575.85" x2="214.61" y2="576.95" stroke="#555" stroke-width="0.45" />
<line x1="216.45" y1="575.85" x2="216.45" y2="576.95" stroke="#555" stroke-width="0.45" />
<line x1="218.01" y1="575.85" x2="218.01" y2="576.95" stroke="#555" stroke-width="0.45" />
<line x1="219.36" y1="575.85" x2="219.36" y2="576.95" stroke="#555" stroke-width="0.45" />
<line x1="220.55" y1="575.85" x2="220.55" y2="576.95" stroke="#555" stroke-width="0.45" />
<line x1="227.81" y1="575.85" x2="227.81" y2="576.95" stroke="#555" stroke-width="0.45" />
<line x1="231.43" y1="575.85" x2="231.43" y2="576.95" stroke="#555" stroke-width="0.45" />
<line x1="234.00" y1="575.85" x2="234.00" y2="576.95" stroke="#555" stroke-width="0.45" />
<line x1="236.00" y1="575.85" x2="236.00" y2="576.95" stroke="#555" stroke-width="0.45" />
<line x1="237.63" y1="575.85" x2="237.63" y2="576.95" stroke="#555" stroke-width="0.45" />
<line x1="239.00" y1="575.85" x2="239.00" y2="576.95" stroke="#555" stroke-width="0.45" />
<line x1="240.20" y1="575.85" x2="240.20" y2="576.95" stroke="#555" stroke-width="0.45" />
<line x1="241.25" y1="575.85" x2="241.25" y2="576.95" stroke="#555" stroke-width="0.45" />
<line x1="248.10" y1="575.85" x2="248.10" y2="576.95" stroke="#555" stroke-width="0.45" />
<line x1="251.55" y1="575.85" x2="251.55" y2="576.95" stroke="#555" stroke-width="0.45" />
<line x1="254.00" y1="575.85" x2="254.00" y2="576.95" stroke="#555" stroke-width="0.45" />
<line x1="255.90" y1="575.85" x2="255.90" y2="576.95" stroke="#555" stroke-width="0.45" />
<line x1="257.46" y1="575.85" x2="257.46" y2="576.95" stroke="#555" stroke-width="0.45" />
<line x1="258.77" y1="575.85" x2="258.77" y2="576.95" stroke="#555" stroke-width="0.45" />
<line x1="259.91" y1="575.85" x2="259.91" y2="576.95" stroke="#555" stroke-width="0.45" />
<line x1="260.91" y1="575.85" x2="260.91" y2="576.95" stroke="#555" stroke-width="0.45" />
<line x1="181.23" y1="575.85" x2="181.23" y2="576.95" stroke="#555" stroke-width="0.45" />
<line x1="183.54" y1="575.85" x2="183.54" y2="576.95" stroke="#555" stroke-width="0.45" />
<line x1="185.46" y1="575.85" x2="185.46" y2="576.95" stroke="#555" stroke-width="0.45" />
<line x1="187.38" y1="575.85" x2="187.38" y2="576.95" stroke="#555" stroke-width="0.45" />
<line x1="191.81" y1="575.85" x2="191.81" y2="576.95" stroke="#555" stroke-width="0.45" />
<line x1="193.73" y1="575.85" x2="193.73" y2="576.95" stroke="#555" stroke-width="0.45" />
<line x1="195.46" y1="575.85" x2="195.46" y2="576.95" stroke="#555" stroke-width="0.45" />
<line x1="197.00" y1="575.85" x2="197.00" y2="576.95" stroke="#555" stroke-width="0.45" />
<path d="M179.31,564.69 L180.77,565.30 L181.62,565.65 L182.94,565.91 L183.92,566.62 L185.41,566.31 L186.42,566.23 L187.66,566.21 L188.92,567.58 L189.93,567.73 L191.23,566.62 L191.89,565.27 L193.15,564.69 L193.77,563.19 L194.69,562.77 L196.04,561.81 L196.31,563.10 L196.74,563.57 L197.38,564.69 L198.00,563.90 L197.96,563.01 L198.83,562.18 L198.92,560.85 L199.17,560.05 L200.19,559.42 L200.46,557.96 L200.90,556.75 L201.81,556.04 L202.17,554.58 L202.57,554.72 L202.63,553.83 L203.15,552.19 L203.57,550.79 L203.61,550.19 L203.82,549.11 L204.12,547.00 L204.52,545.86 L204.69,545.46 L205.36,544.24 L206.04,543.54 L206.17,542.73 L206.30,541.56 L206.94,541.33 L207.19,539.69 L207.10,539.37 L207.72,537.68 L207.51,536.12 L207.73,534.75 L207.89,534.63 L208.30,533.60 L208.54,532.00 L208.82,530.94 L209.09,529.84 L209.10,528.80 L209.28,527.90 L209.83,526.73 L209.88,525.27 L210.34,524.75 L211.04,523.35 L211.42,522.74 L211.06,521.19 L211.56,520.26 L211.04,518.59 L211.54,518.10 L211.43,517.53 L211.43,516.84 L211.42,515.42 L211.53,513.22 L211.84,512.23 L211.72,511.98 L212.00,510.85 L212.96,509.88 L213.12,509.39 L213.24,506.92 L213.95,506.66 L213.92,505.08 L214.88,506.04 L214.65,504.47 L214.86,504.42 L215.09,503.72 L215.06,502.14 L215.20,501.37 L215.55,499.58 L215.51,498.20 L215.53,497.10 L215.74,496.61 L215.61,495.03 L215.91,494.56 L215.79,494.39 L215.62,492.20 L215.85,491.62 L216.00,492.39 L216.04,493.49 L216.51,495.49 L216.93,495.91 L216.81,497.38 L217.77,496.42 L218.05,497.17 L218.48,498.28 L218.34,500.62 L218.73,501.23 L219.07,502.73 L218.90,503.08 L219.39,504.50 L219.40,505.08 L219.39,506.88 L219.80,507.95 L219.69,508.92 L220.10,509.58 L220.19,510.94 L219.97,512.87 L220.65,513.99 L220.19,514.21 L220.65,515.65 L221.44,515.99 L221.62,517.58 L222.02,517.89 L222.04,519.22 L221.82,520.23 L221.90,522.26 L222.57,522.81 L222.68,524.52 L222.58,525.27 L222.40,527.12 L223.00,527.01 L222.64,528.82 L222.89,529.60 L222.93,530.57 L223.61,530.99 L223.66,532.55 L223.54,533.92 L223.85,534.28 L224.13,535.26 L224.50,536.81 L224.86,537.50 L225.13,538.65 L224.97,540.41 L225.46,541.62 L225.91,542.34 L226.26,544.21 L226.81,544.50 L227.88,545.01 L228.35,546.42 L229.69,547.38 L230.35,548.96 L230.51,548.94 L231.23,550.27 L232.58,549.31 L232.69,549.89 L233.35,550.50 L233.77,552.05 L234.12,553.15 L235.46,552.19 L235.66,552.93 L236.59,554.42 L237.00,555.08 L237.70,554.19 L238.35,553.15 L239.10,554.42 L239.38,555.68 L239.69,556.04 L239.88,554.92 L240.61,553.99 L240.54,552.97 L240.69,552.05 L241.23,551.23 L241.25,553.23 L242.18,553.81 L242.31,554.44 L242.58,556.04 L243.18,554.88 L244.12,554.12 L244.64,554.59 L245.65,556.04 L246.51,555.63 L247.00,554.12 L247.48,555.73 L248.54,556.04 L249.88,555.08 L250.11,554.43 L250.59,553.39 L251.20,551.90 L251.23,551.23 L251.68,551.63 L251.81,554.20 L252.41,554.98 L252.38,556.04 L253.73,557.00 L255.27,557.96 L256.62,558.92 L257.08,559.46 L257.31,561.24 L257.70,562.15 L258.15,562.77 L258.56,563.77 L258.71,564.98 L259.19,565.86 L259.50,566.62 L260.02,567.13 L260.66,568.16 L260.85,569.50 L261.76,570.71 L262.38,572.00 L263.33,573.00 L264.31,573.92 L265.04,574.15 L266.23,575.27 L267.77,575.85" fill="none" stroke="#262626" stroke-width="0.95" stroke-linejoin="round"/>
<line x1="226.42" y1="507.50" x2="268.73" y2="507.50" stroke="#585858" stroke-width="1.3" />
<line x1="226.42" y1="505.80" x2="226.42" y2="509.20" stroke="#585858" stroke-width="1.0" />
<line x1="268.73" y1="505.80" x2="268.73" y2="509.20" stroke="#585858" stroke-width="1.0" />
<text x="268.49" y="504.61" font-size="16" text-anchor="end" font-weight="normal" fill="#000" >34</text>
<path d="M298.62,575.85 L298.62,557.96 L300.15,556.04 L301.50,557.96 L302.85,554.12 L304.38,556.04 L305.92,552.19 L307.27,553.15 L309.19,549.31 L311.12,546.42 L313.04,545.46 L314.96,543.54 L316.31,537.77 L317.85,533.92 L319.19,523.35 L320.35,527.19 L321.69,522.38 L323.23,516.62 L324.58,507.00 L325.92,499.31 L327.08,496.42 L328.42,491.62 L329.77,496.42 L330.92,491.62 L332.27,493.54 L333.62,503.15 L334.77,518.54 L336.12,539.69 L337.46,558.92 L338.62,570.46 L339.96,575.85Z" fill="#ebebeb" stroke="none"/>
<path d="M298.62,575.85 L298.62,557.96 L300.15,556.04 L301.50,557.96 L302.85,554.12 L304.38,556.04 L305.92,552.19 L307.27,553.15 L309.19,549.31 L311.12,546.42 L313.04,545.46 L314.96,543.54 L316.31,537.77 L317.85,533.92 L319.19,523.35 L320.35,527.19 L321.69,522.38 L323.23,516.62 L324.58,507.00 L325.92,499.31 L327.08,496.42 L328.42,491.62 L329.77,496.42 L330.92,491.62 L332.27,493.54 L333.62,503.15 L334.77,518.54 L336.12,539.69 L337.46,558.92 L338.62,570.46 L339.96,575.85" fill="none" stroke="#c6c6c6" stroke-width="1" stroke-linejoin="round"/>
<path d="M296.31,486.30 H386.05 V575.85" fill="none" stroke="#9a9a9a" stroke-width="0.8"/>
<line x1="296.31" y1="486.30" x2="296.31" y2="576.35" stroke="#333" stroke-width="1" />
<line x1="295.81" y1="575.85" x2="386.05" y2="575.85" stroke="#333" stroke-width="1" />
<line x1="294.31" y1="575.85" x2="296.31" y2="575.85" stroke="#333" stroke-width="0.7" />
<text x="292.51" y="577.65" font-size="5.1" text-anchor="end" font-weight="normal" fill="#3a3a3a" stroke="none">0</text>
<line x1="294.31" y1="558.73" x2="296.31" y2="558.73" stroke="#333" stroke-width="0.7" />
<text x="292.51" y="560.53" font-size="5.1" text-anchor="end" font-weight="normal" fill="#3a3a3a" stroke="none">20</text>
<line x1="294.31" y1="541.62" x2="296.31" y2="541.62" stroke="#333" stroke-width="0.7" />
<text x="292.51" y="543.42" font-size="5.1" text-anchor="end" font-weight="normal" fill="#3a3a3a" stroke="none">40</text>
<line x1="294.31" y1="524.50" x2="296.31" y2="524.50" stroke="#333" stroke-width="0.7" />
<text x="292.51" y="526.30" font-size="5.1" text-anchor="end" font-weight="normal" fill="#3a3a3a" stroke="none">60</text>
<line x1="294.31" y1="507.38" x2="296.31" y2="507.38" stroke="#333" stroke-width="0.7" />
<text x="292.51" y="509.18" font-size="5.1" text-anchor="end" font-weight="normal" fill="#3a3a3a" stroke="none">80</text>
<line x1="294.31" y1="490.27" x2="296.31" y2="490.27" stroke="#333" stroke-width="0.7" />
<text x="292.51" y="492.07" font-size="5.1" text-anchor="end" font-weight="normal" fill="#3a3a3a" stroke="none">100</text>
<line x1="295.31" y1="572.42" x2="296.31" y2="572.42" stroke="#555" stroke-width="0.5" />
<line x1="295.31" y1="569.00" x2="296.31" y2="569.00" stroke="#555" stroke-width="0.5" />
<line x1="295.31" y1="565.58" x2="296.31" y2="565.58" stroke="#555" stroke-width="0.5" />
<line x1="295.31" y1="562.15" x2="296.31" y2="562.15" stroke="#555" stroke-width="0.5" />
<line x1="295.31" y1="555.31" x2="296.31" y2="555.31" stroke="#555" stroke-width="0.5" />
<line x1="295.31" y1="551.88" x2="296.31" y2="551.88" stroke="#555" stroke-width="0.5" />
<line x1="295.31" y1="548.46" x2="296.31" y2="548.46" stroke="#555" stroke-width="0.5" />
<line x1="295.31" y1="545.04" x2="296.31" y2="545.04" stroke="#555" stroke-width="0.5" />
<line x1="295.31" y1="538.19" x2="296.31" y2="538.19" stroke="#555" stroke-width="0.5" />
<line x1="295.31" y1="534.77" x2="296.31" y2="534.77" stroke="#555" stroke-width="0.5" />
<line x1="295.31" y1="531.35" x2="296.31" y2="531.35" stroke="#555" stroke-width="0.5" />
<line x1="295.31" y1="527.92" x2="296.31" y2="527.92" stroke="#555" stroke-width="0.5" />
<line x1="295.31" y1="521.08" x2="296.31" y2="521.08" stroke="#555" stroke-width="0.5" />
<line x1="295.31" y1="517.65" x2="296.31" y2="517.65" stroke="#555" stroke-width="0.5" />
<line x1="295.31" y1="514.23" x2="296.31" y2="514.23" stroke="#555" stroke-width="0.5" />
<line x1="295.31" y1="510.81" x2="296.31" y2="510.81" stroke="#555" stroke-width="0.5" />
<line x1="295.31" y1="503.96" x2="296.31" y2="503.96" stroke="#555" stroke-width="0.5" />
<line x1="295.31" y1="500.54" x2="296.31" y2="500.54" stroke="#555" stroke-width="0.5" />
<line x1="295.31" y1="497.12" x2="296.31" y2="497.12" stroke="#555" stroke-width="0.5" />
<line x1="295.31" y1="493.69" x2="296.31" y2="493.69" stroke="#555" stroke-width="0.5" />
<text x="306.69" y="586.45" font-size="5" text-anchor="middle" font-weight="normal" fill="#3a3a3a" stroke="none">0</text>
<text x="315.54" y="586.45" font-size="5" text-anchor="middle" fill="#3a3a3a" stroke="none">10<tspan font-size="3.4" dy="-2">2</tspan></text>
<text x="337.27" y="586.45" font-size="5" text-anchor="middle" fill="#3a3a3a" stroke="none">10<tspan font-size="3.4" dy="-2">3</tspan></text>
<text x="357.85" y="586.45" font-size="5" text-anchor="middle" fill="#3a3a3a" stroke="none">10<tspan font-size="3.4" dy="-2">4</tspan></text>
<text x="377.46" y="586.45" font-size="5" text-anchor="middle" fill="#3a3a3a" stroke="none">10<tspan font-size="3.4" dy="-2">5</tspan></text>
<line x1="306.69" y1="575.85" x2="306.69" y2="577.85" stroke="#333" stroke-width="0.7" />
<line x1="315.35" y1="575.85" x2="315.35" y2="577.85" stroke="#333" stroke-width="0.7" />
<line x1="338.62" y1="575.85" x2="338.62" y2="577.85" stroke="#333" stroke-width="0.7" />
<line x1="359.19" y1="575.85" x2="359.19" y2="577.85" stroke="#333" stroke-width="0.7" />
<line x1="378.81" y1="575.85" x2="378.81" y2="577.85" stroke="#333" stroke-width="0.7" />
<line x1="322.35" y1="575.85" x2="322.35" y2="576.95" stroke="#555" stroke-width="0.45" />
<line x1="326.45" y1="575.85" x2="326.45" y2="576.95" stroke="#555" stroke-width="0.45" />
<line x1="329.36" y1="575.85" x2="329.36" y2="576.95" stroke="#555" stroke-width="0.45" />
<line x1="331.61" y1="575.85" x2="331.61" y2="576.95" stroke="#555" stroke-width="0.45" />
<line x1="333.45" y1="575.85" x2="333.45" y2="576.95" stroke="#555" stroke-width="0.45" />
<line x1="335.01" y1="575.85" x2="335.01" y2="576.95" stroke="#555" stroke-width="0.45" />
<line x1="336.36" y1="575.85" x2="336.36" y2="576.95" stroke="#555" stroke-width="0.45" />
<line x1="337.55" y1="575.85" x2="337.55" y2="576.95" stroke="#555" stroke-width="0.45" />
<line x1="344.81" y1="575.85" x2="344.81" y2="576.95" stroke="#555" stroke-width="0.45" />
<line x1="348.43" y1="575.85" x2="348.43" y2="576.95" stroke="#555" stroke-width="0.45" />
<line x1="351.00" y1="575.85" x2="351.00" y2="576.95" stroke="#555" stroke-width="0.45" />
<line x1="353.00" y1="575.85" x2="353.00" y2="576.95" stroke="#555" stroke-width="0.45" />
<line x1="354.63" y1="575.85" x2="354.63" y2="576.95" stroke="#555" stroke-width="0.45" />
<line x1="356.00" y1="575.85" x2="356.00" y2="576.95" stroke="#555" stroke-width="0.45" />
<line x1="357.20" y1="575.85" x2="357.20" y2="576.95" stroke="#555" stroke-width="0.45" />
<line x1="358.25" y1="575.85" x2="358.25" y2="576.95" stroke="#555" stroke-width="0.45" />
<line x1="365.10" y1="575.85" x2="365.10" y2="576.95" stroke="#555" stroke-width="0.45" />
<line x1="368.55" y1="575.85" x2="368.55" y2="576.95" stroke="#555" stroke-width="0.45" />
<line x1="371.00" y1="575.85" x2="371.00" y2="576.95" stroke="#555" stroke-width="0.45" />
<line x1="372.90" y1="575.85" x2="372.90" y2="576.95" stroke="#555" stroke-width="0.45" />
<line x1="374.46" y1="575.85" x2="374.46" y2="576.95" stroke="#555" stroke-width="0.45" />
<line x1="375.77" y1="575.85" x2="375.77" y2="576.95" stroke="#555" stroke-width="0.45" />
<line x1="376.91" y1="575.85" x2="376.91" y2="576.95" stroke="#555" stroke-width="0.45" />
<line x1="377.91" y1="575.85" x2="377.91" y2="576.95" stroke="#555" stroke-width="0.45" />
<line x1="298.23" y1="575.85" x2="298.23" y2="576.95" stroke="#555" stroke-width="0.45" />
<line x1="300.54" y1="575.85" x2="300.54" y2="576.95" stroke="#555" stroke-width="0.45" />
<line x1="302.46" y1="575.85" x2="302.46" y2="576.95" stroke="#555" stroke-width="0.45" />
<line x1="304.38" y1="575.85" x2="304.38" y2="576.95" stroke="#555" stroke-width="0.45" />
<line x1="308.81" y1="575.85" x2="308.81" y2="576.95" stroke="#555" stroke-width="0.45" />
<line x1="310.73" y1="575.85" x2="310.73" y2="576.95" stroke="#555" stroke-width="0.45" />
<line x1="312.46" y1="575.85" x2="312.46" y2="576.95" stroke="#555" stroke-width="0.45" />
<line x1="314.00" y1="575.85" x2="314.00" y2="576.95" stroke="#555" stroke-width="0.45" />
<path d="M296.31,560.85 L297.29,562.49 L298.23,562.77 L299.21,563.77 L300.15,564.69 L301.14,565.39 L302.46,565.08 L303.82,563.88 L304.77,563.73 L305.82,563.96 L306.69,564.31 L307.71,564.06 L308.23,562.77 L308.26,562.40 L309.08,560.66 L309.19,559.88 L309.27,561.35 L309.67,561.25 L310.15,562.77 L310.83,561.17 L311.69,560.85 L312.67,560.85 L313.62,559.88 L314.02,558.85 L314.96,557.96 L315.62,556.83 L315.60,556.35 L316.16,555.04 L316.31,554.12 L316.47,553.57 L316.99,552.48 L317.29,551.26 L317.85,550.27 L318.26,549.10 L318.56,548.16 L319.38,547.38 L319.77,545.94 L319.85,544.75 L320.25,544.85 L320.73,543.54 L320.90,542.30 L321.14,542.15 L321.97,540.87 L322.08,539.69 L323.23,538.73 L323.45,537.10 L323.84,536.89 L323.75,535.06 L324.22,534.02 L324.58,532.96 L324.78,532.10 L325.34,530.41 L325.49,529.85 L325.92,528.15 L326.20,526.82 L326.19,526.53 L326.75,525.45 L326.95,523.33 L327.08,522.38 L327.03,520.99 L327.45,520.55 L327.75,519.06 L328.14,518.54 L328.26,516.02 L328.42,515.65 L328.59,514.44 L328.75,513.89 L329.25,512.15 L329.19,510.94 L329.38,509.88 L329.83,508.70 L330.02,507.75 L329.81,506.12 L330.35,505.08 L330.43,504.32 L330.62,503.41 L330.32,501.32 L330.76,500.20 L330.34,499.19 L330.70,499.19 L330.83,497.02 L330.75,497.02 L330.94,494.92 L330.92,494.46 L330.92,493.54 L331.22,495.42 L330.89,496.30 L331.22,496.52 L331.62,497.08 L331.25,498.59 L331.34,499.73 L331.63,501.68 L331.69,502.19 L331.74,501.15 L331.76,499.36 L332.17,499.61 L331.92,498.53 L331.89,496.43 L332.19,495.91 L332.36,494.73 L332.38,493.86 L332.37,493.16 L332.65,491.62 L332.79,493.37 L332.73,493.06 L332.88,494.91 L332.93,496.05 L333.32,496.66 L333.37,497.77 L333.39,499.67 L333.42,500.27 L333.81,499.10 L333.88,497.98 L333.71,496.26 L333.57,496.10 L333.70,495.35 L333.88,493.83 L334.19,492.58 L334.33,494.31 L334.38,495.17 L334.59,496.03 L334.39,496.48 L334.45,498.41 L334.58,499.59 L334.61,499.34 L335.25,501.49 L335.16,501.96 L335.15,503.15 L335.55,503.86 L335.21,505.65 L335.69,505.74 L335.92,506.82 L335.67,508.32 L335.86,509.88 L336.12,510.85 L336.00,512.01 L336.22,513.64 L336.21,514.60 L336.85,515.60 L336.35,516.01 L336.85,517.06 L336.89,517.88 L336.95,518.74 L337.08,520.46 L337.14,521.90 L337.04,522.88 L337.16,524.19 L337.82,525.41 L337.63,526.51 L337.62,526.54 L337.82,528.34 L337.67,529.70 L338.04,530.08 L338.41,531.15 L338.34,532.43 L338.22,532.72 L338.84,534.11 L338.55,536.12 L338.56,537.35 L339.00,537.77 L339.49,539.03 L339.67,539.72 L339.29,541.32 L339.74,541.90 L340.12,542.86 L340.34,543.85 L340.35,545.46 L340.29,546.24 L340.53,547.75 L341.19,548.84 L341.20,550.01 L341.45,550.21 L341.76,551.41 L341.88,553.15 L342.24,553.72 L342.42,555.23 L342.59,556.88 L343.40,557.24 L343.42,558.92 L344.09,559.62 L344.31,561.44 L344.77,561.81 L344.89,562.21 L345.29,564.34 L345.95,564.69 L346.31,565.65 L347.65,565.08 L348.31,565.72 L349.00,567.58 L349.98,568.00 L350.92,569.50 L351.67,570.15 L352.53,570.30 L353.42,571.42 L354.15,571.46 L355.58,572.03 L356.31,572.96 L357.52,573.30 L358.51,572.86 L359.38,573.95 L360.15,574.31 L361.43,574.61 L362.62,574.26 L363.46,574.33 L364.70,574.33 L365.92,575.27 L366.86,575.36 L367.79,576.02 L368.96,575.59 L370.38,575.68 L370.98,575.93 L372.40,575.25 L373.11,576.49 L374.59,575.97 L375.54,575.85" fill="none" stroke="#262626" stroke-width="0.95" stroke-linejoin="round"/>
<line x1="343.42" y1="507.50" x2="385.73" y2="507.50" stroke="#585858" stroke-width="1.3" />
<line x1="343.42" y1="505.80" x2="343.42" y2="509.20" stroke="#585858" stroke-width="1.0" />
<line x1="385.73" y1="505.80" x2="385.73" y2="509.20" stroke="#585858" stroke-width="1.0" />
<text x="385.49" y="504.61" font-size="16" text-anchor="end" font-weight="normal" fill="#000" >10</text>
<line x1="60.00" y1="596.50" x2="333.00" y2="596.50" stroke="#111" stroke-width="1" />
<path d="M340,596.5 L329.5,592.3 L332.5,596.5 L329.5,600.7 Z" fill="#111"/>
<text x="350.00" y="602.00" font-size="17" text-anchor="start" font-weight="normal" fill="#000" >IFN-γ</text>
<text x="0.30" y="651.30" font-size="28.3" text-anchor="start" font-weight="bold" fill="#000" >D</text>
<line x1="46.50" y1="662.00" x2="46.50" y2="795.00" stroke="#111" stroke-width="1.25" />
<line x1="45.90" y1="794.40" x2="226.50" y2="794.40" stroke="#111" stroke-width="1.25" />
<line x1="42.50" y1="794.40" x2="46.50" y2="794.40" stroke="#111" stroke-width="1.1" />
<text x="41.80" y="800.90" font-size="15" text-anchor="end" font-weight="normal" fill="#000" >0</text>
<line x1="42.50" y1="772.50" x2="46.50" y2="772.50" stroke="#111" stroke-width="1.1" />
<text x="41.80" y="777.80" font-size="15" text-anchor="end" font-weight="normal" fill="#000" >10</text>
<line x1="42.50" y1="750.60" x2="46.50" y2="750.60" stroke="#111" stroke-width="1.1" />
<text x="41.80" y="755.90" font-size="15" text-anchor="end" font-weight="normal" fill="#000" >20</text>
<line x1="42.50" y1="728.70" x2="46.50" y2="728.70" stroke="#111" stroke-width="1.1" />
<text x="41.80" y="734.00" font-size="15" text-anchor="end" font-weight="normal" fill="#000" >30</text>
<line x1="42.50" y1="706.80" x2="46.50" y2="706.80" stroke="#111" stroke-width="1.1" />
<text x="41.80" y="712.10" font-size="15" text-anchor="end" font-weight="normal" fill="#000" >40</text>
<line x1="42.50" y1="684.90" x2="46.50" y2="684.90" stroke="#111" stroke-width="1.1" />
<text x="41.80" y="690.20" font-size="15" text-anchor="end" font-weight="normal" fill="#000" >50</text>
<line x1="42.50" y1="663.00" x2="46.50" y2="663.00" stroke="#111" stroke-width="1.1" />
<text x="41.80" y="668.30" font-size="15" text-anchor="end" font-weight="normal" fill="#000" >60</text>
<line x1="60.15" y1="677.30" x2="60.15" y2="690.30" stroke="#333" stroke-width="0.9" />
<line x1="56.25" y1="677.30" x2="64.05" y2="677.30" stroke="#333" stroke-width="0.9" />
<rect x="51.40" y="690.30" width="17.50" height="104.10" fill="#000"/>
<line x1="87.30" y1="699.20" x2="87.30" y2="713.80" stroke="#333" stroke-width="0.9" />
<line x1="83.40" y1="699.20" x2="91.20" y2="699.20" stroke="#333" stroke-width="0.9" />
<rect x="78.80" y="714.30" width="17.00" height="80.10" fill="#5c5c5c" stroke="#333" stroke-width="1"/>
<line x1="113.65" y1="750.50" x2="113.65" y2="758.50" stroke="#333" stroke-width="0.9" />
<line x1="109.75" y1="750.50" x2="117.55" y2="750.50" stroke="#333" stroke-width="0.9" />
<rect x="105.10" y="759.00" width="17.10" height="35.40" fill="#d9d9d9" stroke="#5e5e5e" stroke-width="1"/>
<line x1="159.30" y1="684.00" x2="159.30" y2="700.50" stroke="#333" stroke-width="0.9" />
<line x1="155.40" y1="684.00" x2="163.20" y2="684.00" stroke="#333" stroke-width="0.9" />
<rect x="150.60" y="700.50" width="17.40" height="93.90" fill="#000"/>
<line x1="186.10" y1="693.00" x2="186.10" y2="711.50" stroke="#333" stroke-width="0.9" />
<line x1="182.20" y1="693.00" x2="190.00" y2="693.00" stroke="#333" stroke-width="0.9" />
<rect x="177.70" y="712.00" width="16.80" height="82.40" fill="#5c5c5c" stroke="#333" stroke-width="1"/>
<line x1="212.55" y1="759.50" x2="212.55" y2="768.00" stroke="#333" stroke-width="0.9" />
<line x1="208.65" y1="759.50" x2="216.45" y2="759.50" stroke="#333" stroke-width="0.9" />
<rect x="204.00" y="768.50" width="17.10" height="25.90" fill="#d9d9d9" stroke="#5e5e5e" stroke-width="1"/>
<path d="M60.80,666.40 V664.20 Q60.80,663.40 61.60,663.40 H111.90 Q112.70,663.40 112.70,664.20 V666.40" fill="none" stroke="#5a5a5a" stroke-width="1"/>
<text x="86.25" y="667.60" font-size="17.3" text-anchor="middle" font-weight="normal" fill="#000" letter-spacing="0.6">***</text>
<path d="M60.80,677.60 V675.40 Q60.80,674.60 61.60,674.60 H85.60 Q86.40,674.60 86.40,675.40 V677.60" fill="none" stroke="#5a5a5a" stroke-width="1"/>
<text x="72.00" y="678.80" font-size="17.3" text-anchor="middle" font-weight="normal" fill="#000" letter-spacing="0">*</text>
<path d="M89.30,685.00 V682.80 Q89.30,682.00 90.10,682.00 H114.80 Q115.60,682.00 115.60,682.80 V685.00" fill="none" stroke="#5a5a5a" stroke-width="1"/>
<text x="102.20" y="686.20" font-size="17.3" text-anchor="middle" font-weight="normal" fill="#000" letter-spacing="0.5">***</text>
<path d="M158.80,666.30 V664.10 Q158.80,663.30 159.60,663.30 H211.70 Q212.50,663.30 212.50,664.10 V666.30" fill="none" stroke="#5a5a5a" stroke-width="1"/>
<text x="188.85" y="667.50" font-size="17.3" text-anchor="middle" font-weight="normal" fill="#000" letter-spacing="2.4">***</text>
<path d="M158.80,677.50 V675.30 Q158.80,674.50 159.60,674.50 H184.70 Q185.50,674.50 185.50,675.30 V677.50" fill="none" stroke="#5a5a5a" stroke-width="1"/>
<text x="171.95" y="678.70" font-size="17.3" text-anchor="middle" font-weight="normal" fill="#000" letter-spacing="0">*</text>
<path d="M187.00,685.00 V682.80 Q187.00,682.00 187.80,682.00 H211.70 Q212.50,682.00 212.50,682.80 V685.00" fill="none" stroke="#5a5a5a" stroke-width="1"/>
<text x="201.45" y="686.20" font-size="17.3" text-anchor="middle" font-weight="normal" fill="#000" letter-spacing="2">**</text>
<text transform="translate(16.7,724.2) rotate(-90)" font-size="15.6" text-anchor="middle">% IFN-γ<tspan font-size="10.5" dy="-8.5">+</tspan><tspan dy="8.5"> cells</tspan></text>
<text x="47.30" y="812.00" font-size="16.4" text-anchor="start" font-weight="normal" fill="#000" letter-spacing="0.25">IL-12+IL-18</text>
<text x="144.80" y="812.00" font-size="16.4" text-anchor="start" font-weight="normal" fill="#000" letter-spacing="0.25">IL-12+IL-15</text>
<text x="261.80" y="652.00" font-size="28.3" text-anchor="start" font-weight="bold" fill="#000" >E</text>
<line x1="335.20" y1="662.00" x2="335.20" y2="794.90" stroke="#111" stroke-width="1.25" />
<line x1="334.60" y1="794.30" x2="516.30" y2="794.30" stroke="#111" stroke-width="1.25" />
<line x1="332.60" y1="794.30" x2="335.20" y2="794.30" stroke="#111" stroke-width="1.1" />
<text x="324.20" y="800.80" font-size="14.6" text-anchor="end" font-weight="normal" fill="#000" letter-spacing="-0.45">0</text>
<line x1="332.60" y1="768.25" x2="335.20" y2="768.25" stroke="#111" stroke-width="1.1" />
<text x="324.20" y="773.55" font-size="14.6" text-anchor="end" font-weight="normal" fill="#000" letter-spacing="-0.45">6000</text>
<line x1="332.60" y1="742.20" x2="335.20" y2="742.20" stroke="#111" stroke-width="1.1" />
<text x="324.20" y="747.50" font-size="14.6" text-anchor="end" font-weight="normal" fill="#000" letter-spacing="-0.45">12000</text>
<line x1="332.60" y1="716.15" x2="335.20" y2="716.15" stroke="#111" stroke-width="1.1" />
<text x="324.20" y="721.45" font-size="14.6" text-anchor="end" font-weight="normal" fill="#000" letter-spacing="-0.45">18000</text>
<line x1="332.60" y1="690.10" x2="335.20" y2="690.10" stroke="#111" stroke-width="1.1" />
<text x="324.20" y="695.40" font-size="14.6" text-anchor="end" font-weight="normal" fill="#000" letter-spacing="-0.45">24000</text>
<line x1="332.60" y1="664.05" x2="335.20" y2="664.05" stroke="#111" stroke-width="1.1" />
<text x="324.20" y="669.35" font-size="14.6" text-anchor="end" font-weight="normal" fill="#000" letter-spacing="-0.45">30000</text>
<line x1="349.25" y1="681.50" x2="349.25" y2="703.20" stroke="#333" stroke-width="0.9" />
<line x1="345.35" y1="681.50" x2="353.15" y2="681.50" stroke="#333" stroke-width="0.9" />
<rect x="340.00" y="703.20" width="18.50" height="91.10" fill="#000"/>
<line x1="376.55" y1="694.00" x2="376.55" y2="716.00" stroke="#333" stroke-width="0.9" />
<line x1="372.65" y1="694.00" x2="380.45" y2="694.00" stroke="#333" stroke-width="0.9" />
<rect x="367.80" y="716.50" width="17.50" height="77.80" fill="#5c5c5c" stroke="#333" stroke-width="1"/>
<line x1="403.95" y1="750.50" x2="403.95" y2="758.80" stroke="#333" stroke-width="0.9" />
<line x1="400.05" y1="750.50" x2="407.85" y2="750.50" stroke="#333" stroke-width="0.9" />
<rect x="395.20" y="759.30" width="17.50" height="35.00" fill="#d9d9d9" stroke="#5e5e5e" stroke-width="1"/>
<line x1="448.75" y1="728.00" x2="448.75" y2="744.70" stroke="#333" stroke-width="0.9" />
<line x1="444.85" y1="728.00" x2="452.65" y2="728.00" stroke="#333" stroke-width="0.9" />
<rect x="439.60" y="744.70" width="18.30" height="49.60" fill="#000"/>
<line x1="475.95" y1="738.50" x2="475.95" y2="750.60" stroke="#333" stroke-width="0.9" />
<line x1="472.05" y1="738.50" x2="479.85" y2="738.50" stroke="#333" stroke-width="0.9" />
<rect x="467.40" y="751.10" width="17.10" height="43.20" fill="#5c5c5c" stroke="#333" stroke-width="1"/>
<line x1="502.70" y1="763.80" x2="502.70" y2="769.30" stroke="#333" stroke-width="0.9" />
<line x1="498.80" y1="763.80" x2="506.60" y2="763.80" stroke="#333" stroke-width="0.9" />
<rect x="493.70" y="769.80" width="18.00" height="24.50" fill="#d9d9d9" stroke="#5e5e5e" stroke-width="1"/>
<path d="M345.50,667.00 V664.80 Q345.50,664.00 346.30,664.00 H398.00 Q398.80,664.00 398.80,664.80 V667.00" fill="none" stroke="#5a5a5a" stroke-width="1"/>
<text x="371.90" y="668.20" font-size="17.3" text-anchor="middle" font-weight="normal" fill="#000" letter-spacing="0.7">**</text>
<path d="M373.80,685.80 V683.60 Q373.80,682.80 374.60,682.80 H399.40 Q400.20,682.80 400.20,683.60 V685.80" fill="none" stroke="#5a5a5a" stroke-width="1"/>
<text x="387.05" y="687.00" font-size="17.3" text-anchor="middle" font-weight="normal" fill="#000" letter-spacing="0.7">**</text>
<path d="M447.00,667.00 V664.80 Q447.00,664.00 447.80,664.00 H499.20 Q500.00,664.00 500.00,664.80 V667.00" fill="none" stroke="#5a5a5a" stroke-width="1"/>
<text x="475.50" y="668.20" font-size="17.3" text-anchor="middle" font-weight="normal" fill="#000" letter-spacing="0">*</text>
<path d="M472.60,685.80 V683.60 Q472.60,682.80 473.40,682.80 H499.20 Q500.00,682.80 500.00,683.60 V685.80" fill="none" stroke="#5a5a5a" stroke-width="1"/>
<text x="487.20" y="687.00" font-size="17.3" text-anchor="middle" font-weight="normal" fill="#000" letter-spacing="0">*</text>
<text transform="translate(276.3,724.6) rotate(-90)" font-size="15.6" text-anchor="middle">MFI IFN-γ<tspan font-size="10.5" dy="-8.5">+</tspan><tspan dy="8.5"> cells</tspan></text>
<text x="331.50" y="812.20" font-size="16.4" text-anchor="start" font-weight="normal" fill="#000" letter-spacing="0.2">IL-12+IL-18</text>
<text x="430.00" y="812.20" font-size="16.4" text-anchor="start" font-weight="normal" fill="#000" letter-spacing="0.2">IL-12+IL-15</text>
</svg>
</body>
</html>
